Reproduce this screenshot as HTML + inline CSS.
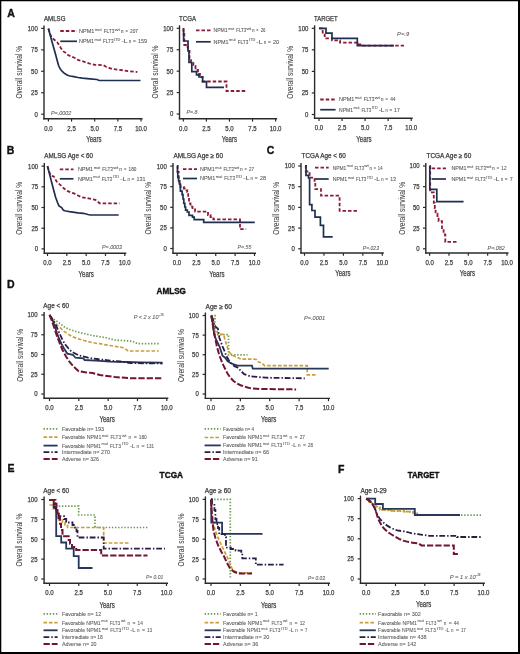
<!DOCTYPE html>
<html><head><meta charset="utf-8"><title>Figure</title>
<style>
html,body{margin:0;padding:0;background:#fff;}
body{width:520px;height:654px;overflow:hidden;}
svg{display:block;font-family:"Liberation Sans",sans-serif;will-change:transform;}
</style></head><body>
<svg width="520" height="654" viewBox="0 0 520 654" fill="#3c3c3c">
<rect x="0" y="0" width="520" height="654" fill="#fff"/>
<line x1="44" y1="25.4" x2="44" y2="119.4" stroke="#2a2a2a" stroke-width="1.4" stroke-linecap="butt"/>
<line x1="43.3" y1="118.8" x2="142.5" y2="118.8" stroke="#2a2a2a" stroke-width="1.4" stroke-linecap="butt"/>
<line x1="41.2" y1="114.2" x2="44" y2="114.2" stroke="#2a2a2a" stroke-width="1.2" stroke-linecap="butt"/>
<text x="37.8" y="116.6" font-size="7" text-anchor="end" textLength="3.35" lengthAdjust="spacingAndGlyphs" stroke="#3c3c3c" stroke-width="0.25">0</text>
<line x1="41.2" y1="92.75" x2="44" y2="92.75" stroke="#2a2a2a" stroke-width="1.2" stroke-linecap="butt"/>
<text x="37.8" y="95.15" font-size="7" text-anchor="end" textLength="6.7" lengthAdjust="spacingAndGlyphs" stroke="#3c3c3c" stroke-width="0.25">25</text>
<line x1="41.2" y1="71.3" x2="44" y2="71.3" stroke="#2a2a2a" stroke-width="1.2" stroke-linecap="butt"/>
<text x="37.8" y="73.7" font-size="7" text-anchor="end" textLength="6.7" lengthAdjust="spacingAndGlyphs" stroke="#3c3c3c" stroke-width="0.25">50</text>
<line x1="41.2" y1="49.85" x2="44" y2="49.85" stroke="#2a2a2a" stroke-width="1.2" stroke-linecap="butt"/>
<text x="37.8" y="52.25" font-size="7" text-anchor="end" textLength="6.7" lengthAdjust="spacingAndGlyphs" stroke="#3c3c3c" stroke-width="0.25">75</text>
<line x1="41.2" y1="28.4" x2="44" y2="28.4" stroke="#2a2a2a" stroke-width="1.2" stroke-linecap="butt"/>
<text x="37.8" y="30.8" font-size="7" text-anchor="end" textLength="10.04" lengthAdjust="spacingAndGlyphs" stroke="#3c3c3c" stroke-width="0.25">100</text>
<line x1="48.4" y1="118.8" x2="48.4" y2="121.6" stroke="#2a2a2a" stroke-width="1.2" stroke-linecap="butt"/>
<text x="48.4" y="130.8" font-size="7" text-anchor="middle" textLength="8.37" lengthAdjust="spacingAndGlyphs" stroke="#3c3c3c" stroke-width="0.25">0.0</text>
<line x1="71.55" y1="118.8" x2="71.55" y2="121.6" stroke="#2a2a2a" stroke-width="1.2" stroke-linecap="butt"/>
<text x="71.55" y="130.8" font-size="7" text-anchor="middle" textLength="8.37" lengthAdjust="spacingAndGlyphs" stroke="#3c3c3c" stroke-width="0.25">2.5</text>
<line x1="94.7" y1="118.8" x2="94.7" y2="121.6" stroke="#2a2a2a" stroke-width="1.2" stroke-linecap="butt"/>
<text x="94.7" y="130.8" font-size="7" text-anchor="middle" textLength="8.37" lengthAdjust="spacingAndGlyphs" stroke="#3c3c3c" stroke-width="0.25">5.0</text>
<line x1="117.85" y1="118.8" x2="117.85" y2="121.6" stroke="#2a2a2a" stroke-width="1.2" stroke-linecap="butt"/>
<text x="117.85" y="130.8" font-size="7" text-anchor="middle" textLength="8.37" lengthAdjust="spacingAndGlyphs" stroke="#3c3c3c" stroke-width="0.25">7.5</text>
<line x1="141" y1="118.8" x2="141" y2="121.6" stroke="#2a2a2a" stroke-width="1.2" stroke-linecap="butt"/>
<text x="141" y="130.8" font-size="7" text-anchor="middle" textLength="11.72" lengthAdjust="spacingAndGlyphs" stroke="#3c3c3c" stroke-width="0.25">10.0</text>
<text x="93.8" y="142.3" font-size="9" text-anchor="middle" textLength="15.3" lengthAdjust="spacingAndGlyphs" stroke="#3c3c3c" stroke-width="0.25">Years</text>
<text transform="translate(22.3,72.2) rotate(-90)" x="0" y="0" font-size="9.2" text-anchor="middle" textLength="52.8" lengthAdjust="spacingAndGlyphs" fill="#454545" stroke="#454545" stroke-width="0.05">Overall survival %</text>
<text x="44" y="21.2" font-size="6.6" textLength="21.4" lengthAdjust="spacingAndGlyphs" stroke="#3c3c3c" stroke-width="0.25">AMLSG</text>
<text x="50.9" y="114.8" font-size="5.2" font-style="italic" textLength="20.4" lengthAdjust="spacingAndGlyphs" fill="#5a5a5a" stroke="#5a5a5a" stroke-width="0.08">P=.0002</text>
<line x1="179.5" y1="25.3" x2="179.5" y2="119.4" stroke="#2a2a2a" stroke-width="1.4" stroke-linecap="butt"/>
<line x1="178.8" y1="118.8" x2="277.1" y2="118.8" stroke="#2a2a2a" stroke-width="1.4" stroke-linecap="butt"/>
<line x1="176.7" y1="114" x2="179.5" y2="114" stroke="#2a2a2a" stroke-width="1.2" stroke-linecap="butt"/>
<text x="173.3" y="116.4" font-size="7" text-anchor="end" textLength="3.35" lengthAdjust="spacingAndGlyphs" stroke="#3c3c3c" stroke-width="0.25">0</text>
<line x1="176.7" y1="92.58" x2="179.5" y2="92.58" stroke="#2a2a2a" stroke-width="1.2" stroke-linecap="butt"/>
<text x="173.3" y="94.98" font-size="7" text-anchor="end" textLength="6.7" lengthAdjust="spacingAndGlyphs" stroke="#3c3c3c" stroke-width="0.25">25</text>
<line x1="176.7" y1="71.15" x2="179.5" y2="71.15" stroke="#2a2a2a" stroke-width="1.2" stroke-linecap="butt"/>
<text x="173.3" y="73.55" font-size="7" text-anchor="end" textLength="6.7" lengthAdjust="spacingAndGlyphs" stroke="#3c3c3c" stroke-width="0.25">50</text>
<line x1="176.7" y1="49.72" x2="179.5" y2="49.72" stroke="#2a2a2a" stroke-width="1.2" stroke-linecap="butt"/>
<text x="173.3" y="52.12" font-size="7" text-anchor="end" textLength="6.7" lengthAdjust="spacingAndGlyphs" stroke="#3c3c3c" stroke-width="0.25">75</text>
<line x1="176.7" y1="28.3" x2="179.5" y2="28.3" stroke="#2a2a2a" stroke-width="1.2" stroke-linecap="butt"/>
<text x="173.3" y="30.7" font-size="7" text-anchor="end" textLength="10.04" lengthAdjust="spacingAndGlyphs" stroke="#3c3c3c" stroke-width="0.25">100</text>
<line x1="183.3" y1="118.8" x2="183.3" y2="121.6" stroke="#2a2a2a" stroke-width="1.2" stroke-linecap="butt"/>
<text x="183.3" y="130.8" font-size="7" text-anchor="middle" textLength="8.37" lengthAdjust="spacingAndGlyphs" stroke="#3c3c3c" stroke-width="0.25">0.0</text>
<line x1="206.38" y1="118.8" x2="206.38" y2="121.6" stroke="#2a2a2a" stroke-width="1.2" stroke-linecap="butt"/>
<text x="206.38" y="130.8" font-size="7" text-anchor="middle" textLength="8.37" lengthAdjust="spacingAndGlyphs" stroke="#3c3c3c" stroke-width="0.25">2.5</text>
<line x1="229.45" y1="118.8" x2="229.45" y2="121.6" stroke="#2a2a2a" stroke-width="1.2" stroke-linecap="butt"/>
<text x="229.45" y="130.8" font-size="7" text-anchor="middle" textLength="8.37" lengthAdjust="spacingAndGlyphs" stroke="#3c3c3c" stroke-width="0.25">5.0</text>
<line x1="252.53" y1="118.8" x2="252.53" y2="121.6" stroke="#2a2a2a" stroke-width="1.2" stroke-linecap="butt"/>
<text x="252.53" y="130.8" font-size="7" text-anchor="middle" textLength="8.37" lengthAdjust="spacingAndGlyphs" stroke="#3c3c3c" stroke-width="0.25">7.5</text>
<line x1="275.6" y1="118.8" x2="275.6" y2="121.6" stroke="#2a2a2a" stroke-width="1.2" stroke-linecap="butt"/>
<text x="275.6" y="130.8" font-size="7" text-anchor="middle" textLength="11.72" lengthAdjust="spacingAndGlyphs" stroke="#3c3c3c" stroke-width="0.25">10.0</text>
<text x="229.3" y="142" font-size="9" text-anchor="middle" textLength="15.3" lengthAdjust="spacingAndGlyphs" stroke="#3c3c3c" stroke-width="0.25">Years</text>
<text transform="translate(158.1,72.05) rotate(-90)" x="0" y="0" font-size="9.2" text-anchor="middle" textLength="52.8" lengthAdjust="spacingAndGlyphs" fill="#454545" stroke="#454545" stroke-width="0.05">Overall survival %</text>
<text x="179" y="21.2" font-size="6.6" textLength="17" lengthAdjust="spacingAndGlyphs" stroke="#3c3c3c" stroke-width="0.25">TCGA</text>
<text x="186.5" y="113.5" font-size="5.2" font-style="italic" textLength="11" lengthAdjust="spacingAndGlyphs" fill="#5a5a5a" stroke="#5a5a5a" stroke-width="0.08">P=.8</text>
<line x1="314.6" y1="25.3" x2="314.6" y2="118.9" stroke="#2a2a2a" stroke-width="1.4" stroke-linecap="butt"/>
<line x1="313.9" y1="118.3" x2="412.7" y2="118.3" stroke="#2a2a2a" stroke-width="1.4" stroke-linecap="butt"/>
<line x1="311.8" y1="114.5" x2="314.6" y2="114.5" stroke="#2a2a2a" stroke-width="1.2" stroke-linecap="butt"/>
<text x="308.4" y="116.9" font-size="7" text-anchor="end" textLength="3.35" lengthAdjust="spacingAndGlyphs" stroke="#3c3c3c" stroke-width="0.25">0</text>
<line x1="311.8" y1="92.95" x2="314.6" y2="92.95" stroke="#2a2a2a" stroke-width="1.2" stroke-linecap="butt"/>
<text x="308.4" y="95.35" font-size="7" text-anchor="end" textLength="6.7" lengthAdjust="spacingAndGlyphs" stroke="#3c3c3c" stroke-width="0.25">25</text>
<line x1="311.8" y1="71.4" x2="314.6" y2="71.4" stroke="#2a2a2a" stroke-width="1.2" stroke-linecap="butt"/>
<text x="308.4" y="73.8" font-size="7" text-anchor="end" textLength="6.7" lengthAdjust="spacingAndGlyphs" stroke="#3c3c3c" stroke-width="0.25">50</text>
<line x1="311.8" y1="49.85" x2="314.6" y2="49.85" stroke="#2a2a2a" stroke-width="1.2" stroke-linecap="butt"/>
<text x="308.4" y="52.25" font-size="7" text-anchor="end" textLength="6.7" lengthAdjust="spacingAndGlyphs" stroke="#3c3c3c" stroke-width="0.25">75</text>
<line x1="311.8" y1="28.3" x2="314.6" y2="28.3" stroke="#2a2a2a" stroke-width="1.2" stroke-linecap="butt"/>
<text x="308.4" y="30.7" font-size="7" text-anchor="end" textLength="10.04" lengthAdjust="spacingAndGlyphs" stroke="#3c3c3c" stroke-width="0.25">100</text>
<line x1="319" y1="118.3" x2="319" y2="121.1" stroke="#2a2a2a" stroke-width="1.2" stroke-linecap="butt"/>
<text x="319" y="130.3" font-size="7" text-anchor="middle" textLength="8.37" lengthAdjust="spacingAndGlyphs" stroke="#3c3c3c" stroke-width="0.25">0.0</text>
<line x1="342.05" y1="118.3" x2="342.05" y2="121.1" stroke="#2a2a2a" stroke-width="1.2" stroke-linecap="butt"/>
<text x="342.05" y="130.3" font-size="7" text-anchor="middle" textLength="8.37" lengthAdjust="spacingAndGlyphs" stroke="#3c3c3c" stroke-width="0.25">2.5</text>
<line x1="365.1" y1="118.3" x2="365.1" y2="121.1" stroke="#2a2a2a" stroke-width="1.2" stroke-linecap="butt"/>
<text x="365.1" y="130.3" font-size="7" text-anchor="middle" textLength="8.37" lengthAdjust="spacingAndGlyphs" stroke="#3c3c3c" stroke-width="0.25">5.0</text>
<line x1="388.15" y1="118.3" x2="388.15" y2="121.1" stroke="#2a2a2a" stroke-width="1.2" stroke-linecap="butt"/>
<text x="388.15" y="130.3" font-size="7" text-anchor="middle" textLength="8.37" lengthAdjust="spacingAndGlyphs" stroke="#3c3c3c" stroke-width="0.25">7.5</text>
<line x1="411.2" y1="118.3" x2="411.2" y2="121.1" stroke="#2a2a2a" stroke-width="1.2" stroke-linecap="butt"/>
<text x="411.2" y="130.3" font-size="7" text-anchor="middle" textLength="11.72" lengthAdjust="spacingAndGlyphs" stroke="#3c3c3c" stroke-width="0.25">10.0</text>
<text x="364" y="142" font-size="9" text-anchor="middle" textLength="15.3" lengthAdjust="spacingAndGlyphs" stroke="#3c3c3c" stroke-width="0.25">Years</text>
<text transform="translate(292.6,72.3) rotate(-90)" x="0" y="0" font-size="9.2" text-anchor="middle" textLength="52.8" lengthAdjust="spacingAndGlyphs" fill="#454545" stroke="#454545" stroke-width="0.05">Overall survival %</text>
<text x="314" y="21.2" font-size="6.6" textLength="23.7" lengthAdjust="spacingAndGlyphs" stroke="#3c3c3c" stroke-width="0.25">TARGET</text>
<text x="397.1" y="35.5" font-size="5.2" font-style="italic" textLength="12" lengthAdjust="spacingAndGlyphs" fill="#5a5a5a" stroke="#5a5a5a" stroke-width="0.08">P=.9</text>
<line x1="44.3" y1="163.1" x2="44.3" y2="253.8" stroke="#2a2a2a" stroke-width="1.4" stroke-linecap="butt"/>
<line x1="43.6" y1="253.2" x2="126.3" y2="253.2" stroke="#2a2a2a" stroke-width="1.4" stroke-linecap="butt"/>
<line x1="41.5" y1="248.9" x2="44.3" y2="248.9" stroke="#2a2a2a" stroke-width="1.2" stroke-linecap="butt"/>
<text x="38.1" y="251.3" font-size="7" text-anchor="end" textLength="3.35" lengthAdjust="spacingAndGlyphs" stroke="#3c3c3c" stroke-width="0.25">0</text>
<line x1="41.5" y1="228.2" x2="44.3" y2="228.2" stroke="#2a2a2a" stroke-width="1.2" stroke-linecap="butt"/>
<text x="38.1" y="230.6" font-size="7" text-anchor="end" textLength="6.7" lengthAdjust="spacingAndGlyphs" stroke="#3c3c3c" stroke-width="0.25">25</text>
<line x1="41.5" y1="207.5" x2="44.3" y2="207.5" stroke="#2a2a2a" stroke-width="1.2" stroke-linecap="butt"/>
<text x="38.1" y="209.9" font-size="7" text-anchor="end" textLength="6.7" lengthAdjust="spacingAndGlyphs" stroke="#3c3c3c" stroke-width="0.25">50</text>
<line x1="41.5" y1="186.8" x2="44.3" y2="186.8" stroke="#2a2a2a" stroke-width="1.2" stroke-linecap="butt"/>
<text x="38.1" y="189.2" font-size="7" text-anchor="end" textLength="6.7" lengthAdjust="spacingAndGlyphs" stroke="#3c3c3c" stroke-width="0.25">75</text>
<line x1="41.5" y1="166.1" x2="44.3" y2="166.1" stroke="#2a2a2a" stroke-width="1.2" stroke-linecap="butt"/>
<text x="38.1" y="168.5" font-size="7" text-anchor="end" textLength="10.04" lengthAdjust="spacingAndGlyphs" stroke="#3c3c3c" stroke-width="0.25">100</text>
<line x1="47.5" y1="253.2" x2="47.5" y2="256" stroke="#2a2a2a" stroke-width="1.2" stroke-linecap="butt"/>
<text x="47.5" y="265.2" font-size="7" text-anchor="middle" textLength="8.37" lengthAdjust="spacingAndGlyphs" stroke="#3c3c3c" stroke-width="0.25">0.0</text>
<line x1="66.83" y1="253.2" x2="66.83" y2="256" stroke="#2a2a2a" stroke-width="1.2" stroke-linecap="butt"/>
<text x="66.83" y="265.2" font-size="7" text-anchor="middle" textLength="8.37" lengthAdjust="spacingAndGlyphs" stroke="#3c3c3c" stroke-width="0.25">2.5</text>
<line x1="86.15" y1="253.2" x2="86.15" y2="256" stroke="#2a2a2a" stroke-width="1.2" stroke-linecap="butt"/>
<text x="86.15" y="265.2" font-size="7" text-anchor="middle" textLength="8.37" lengthAdjust="spacingAndGlyphs" stroke="#3c3c3c" stroke-width="0.25">5.0</text>
<line x1="105.47" y1="253.2" x2="105.47" y2="256" stroke="#2a2a2a" stroke-width="1.2" stroke-linecap="butt"/>
<text x="105.47" y="265.2" font-size="7" text-anchor="middle" textLength="8.37" lengthAdjust="spacingAndGlyphs" stroke="#3c3c3c" stroke-width="0.25">7.5</text>
<line x1="124.8" y1="253.2" x2="124.8" y2="256" stroke="#2a2a2a" stroke-width="1.2" stroke-linecap="butt"/>
<text x="124.8" y="265.2" font-size="7" text-anchor="middle" textLength="11.72" lengthAdjust="spacingAndGlyphs" stroke="#3c3c3c" stroke-width="0.25">10.0</text>
<text x="86.2" y="277" font-size="9" text-anchor="middle" textLength="15.3" lengthAdjust="spacingAndGlyphs" stroke="#3c3c3c" stroke-width="0.25">Years</text>
<text transform="translate(22.2,208.4) rotate(-90)" x="0" y="0" font-size="9.2" text-anchor="middle" textLength="52.8" lengthAdjust="spacingAndGlyphs" fill="#454545" stroke="#454545" stroke-width="0.05">Overall survival %</text>
<text x="44.2" y="157.8" font-size="6.6" textLength="48.9" lengthAdjust="spacingAndGlyphs" stroke="#3c3c3c" stroke-width="0.25">AMLSG Age &lt; 60</text>
<text x="102" y="248.5" font-size="5.2" font-style="italic" textLength="20" lengthAdjust="spacingAndGlyphs" fill="#5a5a5a" stroke="#5a5a5a" stroke-width="0.08">P=.0003</text>
<line x1="173" y1="163.1" x2="173" y2="253.8" stroke="#2a2a2a" stroke-width="1.4" stroke-linecap="butt"/>
<line x1="172.3" y1="253.2" x2="256" y2="253.2" stroke="#2a2a2a" stroke-width="1.4" stroke-linecap="butt"/>
<line x1="170.2" y1="248.5" x2="173" y2="248.5" stroke="#2a2a2a" stroke-width="1.2" stroke-linecap="butt"/>
<text x="166.8" y="250.9" font-size="7" text-anchor="end" textLength="3.35" lengthAdjust="spacingAndGlyphs" stroke="#3c3c3c" stroke-width="0.25">0</text>
<line x1="170.2" y1="227.9" x2="173" y2="227.9" stroke="#2a2a2a" stroke-width="1.2" stroke-linecap="butt"/>
<text x="166.8" y="230.3" font-size="7" text-anchor="end" textLength="6.7" lengthAdjust="spacingAndGlyphs" stroke="#3c3c3c" stroke-width="0.25">25</text>
<line x1="170.2" y1="207.3" x2="173" y2="207.3" stroke="#2a2a2a" stroke-width="1.2" stroke-linecap="butt"/>
<text x="166.8" y="209.7" font-size="7" text-anchor="end" textLength="6.7" lengthAdjust="spacingAndGlyphs" stroke="#3c3c3c" stroke-width="0.25">50</text>
<line x1="170.2" y1="186.7" x2="173" y2="186.7" stroke="#2a2a2a" stroke-width="1.2" stroke-linecap="butt"/>
<text x="166.8" y="189.1" font-size="7" text-anchor="end" textLength="6.7" lengthAdjust="spacingAndGlyphs" stroke="#3c3c3c" stroke-width="0.25">75</text>
<line x1="170.2" y1="166.1" x2="173" y2="166.1" stroke="#2a2a2a" stroke-width="1.2" stroke-linecap="butt"/>
<text x="166.8" y="168.5" font-size="7" text-anchor="end" textLength="10.04" lengthAdjust="spacingAndGlyphs" stroke="#3c3c3c" stroke-width="0.25">100</text>
<line x1="177" y1="253.2" x2="177" y2="256" stroke="#2a2a2a" stroke-width="1.2" stroke-linecap="butt"/>
<text x="177" y="265.2" font-size="7" text-anchor="middle" textLength="8.37" lengthAdjust="spacingAndGlyphs" stroke="#3c3c3c" stroke-width="0.25">0.0</text>
<line x1="196.38" y1="253.2" x2="196.38" y2="256" stroke="#2a2a2a" stroke-width="1.2" stroke-linecap="butt"/>
<text x="196.38" y="265.2" font-size="7" text-anchor="middle" textLength="8.37" lengthAdjust="spacingAndGlyphs" stroke="#3c3c3c" stroke-width="0.25">2.5</text>
<line x1="215.75" y1="253.2" x2="215.75" y2="256" stroke="#2a2a2a" stroke-width="1.2" stroke-linecap="butt"/>
<text x="215.75" y="265.2" font-size="7" text-anchor="middle" textLength="8.37" lengthAdjust="spacingAndGlyphs" stroke="#3c3c3c" stroke-width="0.25">5.0</text>
<line x1="235.12" y1="253.2" x2="235.12" y2="256" stroke="#2a2a2a" stroke-width="1.2" stroke-linecap="butt"/>
<text x="235.12" y="265.2" font-size="7" text-anchor="middle" textLength="8.37" lengthAdjust="spacingAndGlyphs" stroke="#3c3c3c" stroke-width="0.25">7.5</text>
<line x1="254.5" y1="253.2" x2="254.5" y2="256" stroke="#2a2a2a" stroke-width="1.2" stroke-linecap="butt"/>
<text x="254.5" y="265.2" font-size="7" text-anchor="middle" textLength="11.72" lengthAdjust="spacingAndGlyphs" stroke="#3c3c3c" stroke-width="0.25">10.0</text>
<text x="216.8" y="277" font-size="9" text-anchor="middle" textLength="15.3" lengthAdjust="spacingAndGlyphs" stroke="#3c3c3c" stroke-width="0.25">Years</text>
<text transform="translate(151.2,208.2) rotate(-90)" x="0" y="0" font-size="9.2" text-anchor="middle" textLength="52.8" lengthAdjust="spacingAndGlyphs" fill="#454545" stroke="#454545" stroke-width="0.05">Overall survival %</text>
<text x="173.5" y="157.8" font-size="6.6" textLength="49.5" lengthAdjust="spacingAndGlyphs" stroke="#3c3c3c" stroke-width="0.25">AMLSG Age ≥ 60</text>
<text x="237.5" y="249.3" font-size="5.2" font-style="italic" textLength="13.8" lengthAdjust="spacingAndGlyphs" fill="#5a5a5a" stroke="#5a5a5a" stroke-width="0.08">P=.55</text>
<line x1="301" y1="163" x2="301" y2="253.6" stroke="#2a2a2a" stroke-width="1.4" stroke-linecap="butt"/>
<line x1="300.3" y1="253" x2="383.8" y2="253" stroke="#2a2a2a" stroke-width="1.4" stroke-linecap="butt"/>
<line x1="298.2" y1="248.8" x2="301" y2="248.8" stroke="#2a2a2a" stroke-width="1.2" stroke-linecap="butt"/>
<text x="294.8" y="251.2" font-size="7" text-anchor="end" textLength="3.35" lengthAdjust="spacingAndGlyphs" stroke="#3c3c3c" stroke-width="0.25">0</text>
<line x1="298.2" y1="228.1" x2="301" y2="228.1" stroke="#2a2a2a" stroke-width="1.2" stroke-linecap="butt"/>
<text x="294.8" y="230.5" font-size="7" text-anchor="end" textLength="6.7" lengthAdjust="spacingAndGlyphs" stroke="#3c3c3c" stroke-width="0.25">25</text>
<line x1="298.2" y1="207.4" x2="301" y2="207.4" stroke="#2a2a2a" stroke-width="1.2" stroke-linecap="butt"/>
<text x="294.8" y="209.8" font-size="7" text-anchor="end" textLength="6.7" lengthAdjust="spacingAndGlyphs" stroke="#3c3c3c" stroke-width="0.25">50</text>
<line x1="298.2" y1="186.7" x2="301" y2="186.7" stroke="#2a2a2a" stroke-width="1.2" stroke-linecap="butt"/>
<text x="294.8" y="189.1" font-size="7" text-anchor="end" textLength="6.7" lengthAdjust="spacingAndGlyphs" stroke="#3c3c3c" stroke-width="0.25">75</text>
<line x1="298.2" y1="166" x2="301" y2="166" stroke="#2a2a2a" stroke-width="1.2" stroke-linecap="butt"/>
<text x="294.8" y="168.4" font-size="7" text-anchor="end" textLength="10.04" lengthAdjust="spacingAndGlyphs" stroke="#3c3c3c" stroke-width="0.25">100</text>
<line x1="304.5" y1="253" x2="304.5" y2="255.8" stroke="#2a2a2a" stroke-width="1.2" stroke-linecap="butt"/>
<text x="304.5" y="265" font-size="7" text-anchor="middle" textLength="8.37" lengthAdjust="spacingAndGlyphs" stroke="#3c3c3c" stroke-width="0.25">0.0</text>
<line x1="323.95" y1="253" x2="323.95" y2="255.8" stroke="#2a2a2a" stroke-width="1.2" stroke-linecap="butt"/>
<text x="323.95" y="265" font-size="7" text-anchor="middle" textLength="8.37" lengthAdjust="spacingAndGlyphs" stroke="#3c3c3c" stroke-width="0.25">2.5</text>
<line x1="343.4" y1="253" x2="343.4" y2="255.8" stroke="#2a2a2a" stroke-width="1.2" stroke-linecap="butt"/>
<text x="343.4" y="265" font-size="7" text-anchor="middle" textLength="8.37" lengthAdjust="spacingAndGlyphs" stroke="#3c3c3c" stroke-width="0.25">5.0</text>
<line x1="362.85" y1="253" x2="362.85" y2="255.8" stroke="#2a2a2a" stroke-width="1.2" stroke-linecap="butt"/>
<text x="362.85" y="265" font-size="7" text-anchor="middle" textLength="8.37" lengthAdjust="spacingAndGlyphs" stroke="#3c3c3c" stroke-width="0.25">7.5</text>
<line x1="382.3" y1="253" x2="382.3" y2="255.8" stroke="#2a2a2a" stroke-width="1.2" stroke-linecap="butt"/>
<text x="382.3" y="265" font-size="7" text-anchor="middle" textLength="11.72" lengthAdjust="spacingAndGlyphs" stroke="#3c3c3c" stroke-width="0.25">10.0</text>
<text x="342.8" y="276.2" font-size="9" text-anchor="middle" textLength="15.3" lengthAdjust="spacingAndGlyphs" stroke="#3c3c3c" stroke-width="0.25">Years</text>
<text transform="translate(279.1,208.3) rotate(-90)" x="0" y="0" font-size="9.2" text-anchor="middle" textLength="52.8" lengthAdjust="spacingAndGlyphs" fill="#454545" stroke="#454545" stroke-width="0.05">Overall survival %</text>
<text x="301.5" y="158.4" font-size="6.6" textLength="44.3" lengthAdjust="spacingAndGlyphs" stroke="#3c3c3c" stroke-width="0.25">TCGA Age &lt; 60</text>
<text x="362.8" y="249.5" font-size="5.2" font-style="italic" textLength="16.2" lengthAdjust="spacingAndGlyphs" fill="#5a5a5a" stroke="#5a5a5a" stroke-width="0.08">P=.023</text>
<line x1="425.8" y1="163" x2="425.8" y2="253.6" stroke="#2a2a2a" stroke-width="1.4" stroke-linecap="butt"/>
<line x1="425.1" y1="253" x2="508.5" y2="253" stroke="#2a2a2a" stroke-width="1.4" stroke-linecap="butt"/>
<line x1="423" y1="248.8" x2="425.8" y2="248.8" stroke="#2a2a2a" stroke-width="1.2" stroke-linecap="butt"/>
<text x="419.6" y="251.2" font-size="7" text-anchor="end" textLength="3.35" lengthAdjust="spacingAndGlyphs" stroke="#3c3c3c" stroke-width="0.25">0</text>
<line x1="423" y1="228.1" x2="425.8" y2="228.1" stroke="#2a2a2a" stroke-width="1.2" stroke-linecap="butt"/>
<text x="419.6" y="230.5" font-size="7" text-anchor="end" textLength="6.7" lengthAdjust="spacingAndGlyphs" stroke="#3c3c3c" stroke-width="0.25">25</text>
<line x1="423" y1="207.4" x2="425.8" y2="207.4" stroke="#2a2a2a" stroke-width="1.2" stroke-linecap="butt"/>
<text x="419.6" y="209.8" font-size="7" text-anchor="end" textLength="6.7" lengthAdjust="spacingAndGlyphs" stroke="#3c3c3c" stroke-width="0.25">50</text>
<line x1="423" y1="186.7" x2="425.8" y2="186.7" stroke="#2a2a2a" stroke-width="1.2" stroke-linecap="butt"/>
<text x="419.6" y="189.1" font-size="7" text-anchor="end" textLength="6.7" lengthAdjust="spacingAndGlyphs" stroke="#3c3c3c" stroke-width="0.25">75</text>
<line x1="423" y1="166" x2="425.8" y2="166" stroke="#2a2a2a" stroke-width="1.2" stroke-linecap="butt"/>
<text x="419.6" y="168.4" font-size="7" text-anchor="end" textLength="10.04" lengthAdjust="spacingAndGlyphs" stroke="#3c3c3c" stroke-width="0.25">100</text>
<line x1="429.6" y1="253" x2="429.6" y2="255.8" stroke="#2a2a2a" stroke-width="1.2" stroke-linecap="butt"/>
<text x="429.6" y="265" font-size="7" text-anchor="middle" textLength="8.37" lengthAdjust="spacingAndGlyphs" stroke="#3c3c3c" stroke-width="0.25">0.0</text>
<line x1="448.95" y1="253" x2="448.95" y2="255.8" stroke="#2a2a2a" stroke-width="1.2" stroke-linecap="butt"/>
<text x="448.95" y="265" font-size="7" text-anchor="middle" textLength="8.37" lengthAdjust="spacingAndGlyphs" stroke="#3c3c3c" stroke-width="0.25">2.5</text>
<line x1="468.3" y1="253" x2="468.3" y2="255.8" stroke="#2a2a2a" stroke-width="1.2" stroke-linecap="butt"/>
<text x="468.3" y="265" font-size="7" text-anchor="middle" textLength="8.37" lengthAdjust="spacingAndGlyphs" stroke="#3c3c3c" stroke-width="0.25">5.0</text>
<line x1="487.65" y1="253" x2="487.65" y2="255.8" stroke="#2a2a2a" stroke-width="1.2" stroke-linecap="butt"/>
<text x="487.65" y="265" font-size="7" text-anchor="middle" textLength="8.37" lengthAdjust="spacingAndGlyphs" stroke="#3c3c3c" stroke-width="0.25">7.5</text>
<line x1="507" y1="253" x2="507" y2="255.8" stroke="#2a2a2a" stroke-width="1.2" stroke-linecap="butt"/>
<text x="507" y="265" font-size="7" text-anchor="middle" textLength="11.72" lengthAdjust="spacingAndGlyphs" stroke="#3c3c3c" stroke-width="0.25">10.0</text>
<text x="467.5" y="276.2" font-size="9" text-anchor="middle" textLength="15.3" lengthAdjust="spacingAndGlyphs" stroke="#3c3c3c" stroke-width="0.25">Years</text>
<text transform="translate(404.6,208.3) rotate(-90)" x="0" y="0" font-size="9.2" text-anchor="middle" textLength="52.8" lengthAdjust="spacingAndGlyphs" fill="#454545" stroke="#454545" stroke-width="0.05">Overall survival %</text>
<text x="426.5" y="158.2" font-size="6.6" textLength="44.8" lengthAdjust="spacingAndGlyphs" stroke="#3c3c3c" stroke-width="0.25">TCGA Age ≥ 60</text>
<text x="487.5" y="249.5" font-size="5.2" font-style="italic" textLength="17.4" lengthAdjust="spacingAndGlyphs" fill="#5a5a5a" stroke="#5a5a5a" stroke-width="0.08">P=.082</text>
<line x1="44.1" y1="312" x2="44.1" y2="398.9" stroke="#2a2a2a" stroke-width="1.4" stroke-linecap="butt"/>
<line x1="43.4" y1="398.3" x2="168.3" y2="398.3" stroke="#2a2a2a" stroke-width="1.4" stroke-linecap="butt"/>
<line x1="41.3" y1="394" x2="44.1" y2="394" stroke="#2a2a2a" stroke-width="1.2" stroke-linecap="butt"/>
<text x="37.5" y="396.4" font-size="7" text-anchor="end" textLength="3.35" lengthAdjust="spacingAndGlyphs" stroke="#3c3c3c" stroke-width="0.25">0</text>
<line x1="41.3" y1="374.25" x2="44.1" y2="374.25" stroke="#2a2a2a" stroke-width="1.2" stroke-linecap="butt"/>
<text x="37.5" y="376.65" font-size="7" text-anchor="end" textLength="6.7" lengthAdjust="spacingAndGlyphs" stroke="#3c3c3c" stroke-width="0.25">25</text>
<line x1="41.3" y1="354.5" x2="44.1" y2="354.5" stroke="#2a2a2a" stroke-width="1.2" stroke-linecap="butt"/>
<text x="37.5" y="356.9" font-size="7" text-anchor="end" textLength="6.7" lengthAdjust="spacingAndGlyphs" stroke="#3c3c3c" stroke-width="0.25">50</text>
<line x1="41.3" y1="334.75" x2="44.1" y2="334.75" stroke="#2a2a2a" stroke-width="1.2" stroke-linecap="butt"/>
<text x="37.5" y="337.15" font-size="7" text-anchor="end" textLength="6.7" lengthAdjust="spacingAndGlyphs" stroke="#3c3c3c" stroke-width="0.25">75</text>
<line x1="41.3" y1="315" x2="44.1" y2="315" stroke="#2a2a2a" stroke-width="1.2" stroke-linecap="butt"/>
<text x="37.5" y="317.4" font-size="7" text-anchor="end" textLength="10.04" lengthAdjust="spacingAndGlyphs" stroke="#3c3c3c" stroke-width="0.25">100</text>
<line x1="49.5" y1="398.3" x2="49.5" y2="401.1" stroke="#2a2a2a" stroke-width="1.2" stroke-linecap="butt"/>
<text x="49.5" y="410.3" font-size="7" text-anchor="middle" textLength="8.37" lengthAdjust="spacingAndGlyphs" stroke="#3c3c3c" stroke-width="0.25">0.0</text>
<line x1="78.83" y1="398.3" x2="78.83" y2="401.1" stroke="#2a2a2a" stroke-width="1.2" stroke-linecap="butt"/>
<text x="78.83" y="410.3" font-size="7" text-anchor="middle" textLength="8.37" lengthAdjust="spacingAndGlyphs" stroke="#3c3c3c" stroke-width="0.25">2.5</text>
<line x1="108.15" y1="398.3" x2="108.15" y2="401.1" stroke="#2a2a2a" stroke-width="1.2" stroke-linecap="butt"/>
<text x="108.15" y="410.3" font-size="7" text-anchor="middle" textLength="8.37" lengthAdjust="spacingAndGlyphs" stroke="#3c3c3c" stroke-width="0.25">5.0</text>
<line x1="137.48" y1="398.3" x2="137.48" y2="401.1" stroke="#2a2a2a" stroke-width="1.2" stroke-linecap="butt"/>
<text x="137.48" y="410.3" font-size="7" text-anchor="middle" textLength="8.37" lengthAdjust="spacingAndGlyphs" stroke="#3c3c3c" stroke-width="0.25">7.5</text>
<line x1="166.8" y1="398.3" x2="166.8" y2="401.1" stroke="#2a2a2a" stroke-width="1.2" stroke-linecap="butt"/>
<text x="166.8" y="410.3" font-size="7" text-anchor="middle" textLength="11.72" lengthAdjust="spacingAndGlyphs" stroke="#3c3c3c" stroke-width="0.25">10.0</text>
<text x="107.1" y="422.3" font-size="9" text-anchor="middle" textLength="15.3" lengthAdjust="spacingAndGlyphs" stroke="#3c3c3c" stroke-width="0.25">Years</text>
<text transform="translate(22.5,355.4) rotate(-90)" x="0" y="0" font-size="9.2" text-anchor="middle" textLength="52.8" lengthAdjust="spacingAndGlyphs" fill="#454545" stroke="#454545" stroke-width="0.05">Overall survival %</text>
<text x="43.3" y="307.7" font-size="6.6" textLength="25.9" lengthAdjust="spacingAndGlyphs" stroke="#3c3c3c" stroke-width="0.25">Age &lt; 60</text>
<line x1="205.4" y1="312.5" x2="205.4" y2="399" stroke="#2a2a2a" stroke-width="1.4" stroke-linecap="butt"/>
<line x1="204.7" y1="398.4" x2="330" y2="398.4" stroke="#2a2a2a" stroke-width="1.4" stroke-linecap="butt"/>
<line x1="202.6" y1="394" x2="205.4" y2="394" stroke="#2a2a2a" stroke-width="1.2" stroke-linecap="butt"/>
<text x="198.8" y="396.4" font-size="7" text-anchor="end" textLength="3.35" lengthAdjust="spacingAndGlyphs" stroke="#3c3c3c" stroke-width="0.25">0</text>
<line x1="202.6" y1="374.38" x2="205.4" y2="374.38" stroke="#2a2a2a" stroke-width="1.2" stroke-linecap="butt"/>
<text x="198.8" y="376.77" font-size="7" text-anchor="end" textLength="6.7" lengthAdjust="spacingAndGlyphs" stroke="#3c3c3c" stroke-width="0.25">25</text>
<line x1="202.6" y1="354.75" x2="205.4" y2="354.75" stroke="#2a2a2a" stroke-width="1.2" stroke-linecap="butt"/>
<text x="198.8" y="357.15" font-size="7" text-anchor="end" textLength="6.7" lengthAdjust="spacingAndGlyphs" stroke="#3c3c3c" stroke-width="0.25">50</text>
<line x1="202.6" y1="335.12" x2="205.4" y2="335.12" stroke="#2a2a2a" stroke-width="1.2" stroke-linecap="butt"/>
<text x="198.8" y="337.52" font-size="7" text-anchor="end" textLength="6.7" lengthAdjust="spacingAndGlyphs" stroke="#3c3c3c" stroke-width="0.25">75</text>
<line x1="202.6" y1="315.5" x2="205.4" y2="315.5" stroke="#2a2a2a" stroke-width="1.2" stroke-linecap="butt"/>
<text x="198.8" y="317.9" font-size="7" text-anchor="end" textLength="10.04" lengthAdjust="spacingAndGlyphs" stroke="#3c3c3c" stroke-width="0.25">100</text>
<line x1="211" y1="398.4" x2="211" y2="401.2" stroke="#2a2a2a" stroke-width="1.2" stroke-linecap="butt"/>
<text x="211" y="410.4" font-size="7" text-anchor="middle" textLength="8.37" lengthAdjust="spacingAndGlyphs" stroke="#3c3c3c" stroke-width="0.25">0.0</text>
<line x1="240.38" y1="398.4" x2="240.38" y2="401.2" stroke="#2a2a2a" stroke-width="1.2" stroke-linecap="butt"/>
<text x="240.38" y="410.4" font-size="7" text-anchor="middle" textLength="8.37" lengthAdjust="spacingAndGlyphs" stroke="#3c3c3c" stroke-width="0.25">2.5</text>
<line x1="269.75" y1="398.4" x2="269.75" y2="401.2" stroke="#2a2a2a" stroke-width="1.2" stroke-linecap="butt"/>
<text x="269.75" y="410.4" font-size="7" text-anchor="middle" textLength="8.37" lengthAdjust="spacingAndGlyphs" stroke="#3c3c3c" stroke-width="0.25">5.0</text>
<line x1="299.12" y1="398.4" x2="299.12" y2="401.2" stroke="#2a2a2a" stroke-width="1.2" stroke-linecap="butt"/>
<text x="299.12" y="410.4" font-size="7" text-anchor="middle" textLength="8.37" lengthAdjust="spacingAndGlyphs" stroke="#3c3c3c" stroke-width="0.25">7.5</text>
<line x1="328.5" y1="398.4" x2="328.5" y2="401.2" stroke="#2a2a2a" stroke-width="1.2" stroke-linecap="butt"/>
<text x="328.5" y="410.4" font-size="7" text-anchor="middle" textLength="11.72" lengthAdjust="spacingAndGlyphs" stroke="#3c3c3c" stroke-width="0.25">10.0</text>
<text x="268.6" y="422.3" font-size="9" text-anchor="middle" textLength="15.3" lengthAdjust="spacingAndGlyphs" stroke="#3c3c3c" stroke-width="0.25">Years</text>
<text transform="translate(183.9,355.65) rotate(-90)" x="0" y="0" font-size="9.2" text-anchor="middle" textLength="52.8" lengthAdjust="spacingAndGlyphs" fill="#454545" stroke="#454545" stroke-width="0.05">Overall survival %</text>
<text x="205.5" y="308.5" font-size="6.6" textLength="26.5" lengthAdjust="spacingAndGlyphs" stroke="#3c3c3c" stroke-width="0.25">Age ≥ 60</text>
<text x="304" y="320.1" font-size="5.2" font-style="italic" textLength="21.1" lengthAdjust="spacingAndGlyphs" fill="#5a5a5a" stroke="#5a5a5a" stroke-width="0.08">P=.0001</text>
<line x1="44.1" y1="496.5" x2="44.1" y2="583.8" stroke="#2a2a2a" stroke-width="1.4" stroke-linecap="butt"/>
<line x1="43.4" y1="583.2" x2="168" y2="583.2" stroke="#2a2a2a" stroke-width="1.4" stroke-linecap="butt"/>
<line x1="41.3" y1="579" x2="44.1" y2="579" stroke="#2a2a2a" stroke-width="1.2" stroke-linecap="butt"/>
<text x="37.5" y="581.4" font-size="7" text-anchor="end" textLength="3.35" lengthAdjust="spacingAndGlyphs" stroke="#3c3c3c" stroke-width="0.25">0</text>
<line x1="41.3" y1="559.12" x2="44.1" y2="559.12" stroke="#2a2a2a" stroke-width="1.2" stroke-linecap="butt"/>
<text x="37.5" y="561.52" font-size="7" text-anchor="end" textLength="6.7" lengthAdjust="spacingAndGlyphs" stroke="#3c3c3c" stroke-width="0.25">25</text>
<line x1="41.3" y1="539.25" x2="44.1" y2="539.25" stroke="#2a2a2a" stroke-width="1.2" stroke-linecap="butt"/>
<text x="37.5" y="541.65" font-size="7" text-anchor="end" textLength="6.7" lengthAdjust="spacingAndGlyphs" stroke="#3c3c3c" stroke-width="0.25">50</text>
<line x1="41.3" y1="519.38" x2="44.1" y2="519.38" stroke="#2a2a2a" stroke-width="1.2" stroke-linecap="butt"/>
<text x="37.5" y="521.77" font-size="7" text-anchor="end" textLength="6.7" lengthAdjust="spacingAndGlyphs" stroke="#3c3c3c" stroke-width="0.25">75</text>
<line x1="41.3" y1="499.5" x2="44.1" y2="499.5" stroke="#2a2a2a" stroke-width="1.2" stroke-linecap="butt"/>
<text x="37.5" y="501.9" font-size="7" text-anchor="end" textLength="10.04" lengthAdjust="spacingAndGlyphs" stroke="#3c3c3c" stroke-width="0.25">100</text>
<line x1="49.5" y1="583.2" x2="49.5" y2="586" stroke="#2a2a2a" stroke-width="1.2" stroke-linecap="butt"/>
<text x="49.5" y="595.2" font-size="7" text-anchor="middle" textLength="8.37" lengthAdjust="spacingAndGlyphs" stroke="#3c3c3c" stroke-width="0.25">0.0</text>
<line x1="78.75" y1="583.2" x2="78.75" y2="586" stroke="#2a2a2a" stroke-width="1.2" stroke-linecap="butt"/>
<text x="78.75" y="595.2" font-size="7" text-anchor="middle" textLength="8.37" lengthAdjust="spacingAndGlyphs" stroke="#3c3c3c" stroke-width="0.25">2.5</text>
<line x1="108" y1="583.2" x2="108" y2="586" stroke="#2a2a2a" stroke-width="1.2" stroke-linecap="butt"/>
<text x="108" y="595.2" font-size="7" text-anchor="middle" textLength="8.37" lengthAdjust="spacingAndGlyphs" stroke="#3c3c3c" stroke-width="0.25">5.0</text>
<line x1="137.25" y1="583.2" x2="137.25" y2="586" stroke="#2a2a2a" stroke-width="1.2" stroke-linecap="butt"/>
<text x="137.25" y="595.2" font-size="7" text-anchor="middle" textLength="8.37" lengthAdjust="spacingAndGlyphs" stroke="#3c3c3c" stroke-width="0.25">7.5</text>
<line x1="166.5" y1="583.2" x2="166.5" y2="586" stroke="#2a2a2a" stroke-width="1.2" stroke-linecap="butt"/>
<text x="166.5" y="595.2" font-size="7" text-anchor="middle" textLength="11.72" lengthAdjust="spacingAndGlyphs" stroke="#3c3c3c" stroke-width="0.25">10.0</text>
<text x="107.1" y="607.5" font-size="9" text-anchor="middle" textLength="15.3" lengthAdjust="spacingAndGlyphs" stroke="#3c3c3c" stroke-width="0.25">Years</text>
<text transform="translate(22.2,540.15) rotate(-90)" x="0" y="0" font-size="9.2" text-anchor="middle" textLength="52.8" lengthAdjust="spacingAndGlyphs" fill="#454545" stroke="#454545" stroke-width="0.05">Overall survival %</text>
<text x="43.3" y="493" font-size="6.6" textLength="25.9" lengthAdjust="spacingAndGlyphs" stroke="#3c3c3c" stroke-width="0.25">Age &lt; 60</text>
<text x="145.9" y="578.5" font-size="5.2" font-style="italic" textLength="17.3" lengthAdjust="spacingAndGlyphs" fill="#5a5a5a" stroke="#5a5a5a" stroke-width="0.08">P= 0.01</text>
<line x1="205.4" y1="496.4" x2="205.4" y2="583.8" stroke="#2a2a2a" stroke-width="1.4" stroke-linecap="butt"/>
<line x1="204.7" y1="583.2" x2="330" y2="583.2" stroke="#2a2a2a" stroke-width="1.4" stroke-linecap="butt"/>
<line x1="202.6" y1="579" x2="205.4" y2="579" stroke="#2a2a2a" stroke-width="1.2" stroke-linecap="butt"/>
<text x="198.8" y="581.4" font-size="7" text-anchor="end" textLength="3.35" lengthAdjust="spacingAndGlyphs" stroke="#3c3c3c" stroke-width="0.25">0</text>
<line x1="202.6" y1="559.1" x2="205.4" y2="559.1" stroke="#2a2a2a" stroke-width="1.2" stroke-linecap="butt"/>
<text x="198.8" y="561.5" font-size="7" text-anchor="end" textLength="6.7" lengthAdjust="spacingAndGlyphs" stroke="#3c3c3c" stroke-width="0.25">25</text>
<line x1="202.6" y1="539.2" x2="205.4" y2="539.2" stroke="#2a2a2a" stroke-width="1.2" stroke-linecap="butt"/>
<text x="198.8" y="541.6" font-size="7" text-anchor="end" textLength="6.7" lengthAdjust="spacingAndGlyphs" stroke="#3c3c3c" stroke-width="0.25">50</text>
<line x1="202.6" y1="519.3" x2="205.4" y2="519.3" stroke="#2a2a2a" stroke-width="1.2" stroke-linecap="butt"/>
<text x="198.8" y="521.7" font-size="7" text-anchor="end" textLength="6.7" lengthAdjust="spacingAndGlyphs" stroke="#3c3c3c" stroke-width="0.25">75</text>
<line x1="202.6" y1="499.4" x2="205.4" y2="499.4" stroke="#2a2a2a" stroke-width="1.2" stroke-linecap="butt"/>
<text x="198.8" y="501.8" font-size="7" text-anchor="end" textLength="10.04" lengthAdjust="spacingAndGlyphs" stroke="#3c3c3c" stroke-width="0.25">100</text>
<line x1="211" y1="583.2" x2="211" y2="586" stroke="#2a2a2a" stroke-width="1.2" stroke-linecap="butt"/>
<text x="211" y="595.2" font-size="7" text-anchor="middle" textLength="8.37" lengthAdjust="spacingAndGlyphs" stroke="#3c3c3c" stroke-width="0.25">0.0</text>
<line x1="240.38" y1="583.2" x2="240.38" y2="586" stroke="#2a2a2a" stroke-width="1.2" stroke-linecap="butt"/>
<text x="240.38" y="595.2" font-size="7" text-anchor="middle" textLength="8.37" lengthAdjust="spacingAndGlyphs" stroke="#3c3c3c" stroke-width="0.25">2.5</text>
<line x1="269.75" y1="583.2" x2="269.75" y2="586" stroke="#2a2a2a" stroke-width="1.2" stroke-linecap="butt"/>
<text x="269.75" y="595.2" font-size="7" text-anchor="middle" textLength="8.37" lengthAdjust="spacingAndGlyphs" stroke="#3c3c3c" stroke-width="0.25">5.0</text>
<line x1="299.12" y1="583.2" x2="299.12" y2="586" stroke="#2a2a2a" stroke-width="1.2" stroke-linecap="butt"/>
<text x="299.12" y="595.2" font-size="7" text-anchor="middle" textLength="8.37" lengthAdjust="spacingAndGlyphs" stroke="#3c3c3c" stroke-width="0.25">7.5</text>
<line x1="328.5" y1="583.2" x2="328.5" y2="586" stroke="#2a2a2a" stroke-width="1.2" stroke-linecap="butt"/>
<text x="328.5" y="595.2" font-size="7" text-anchor="middle" textLength="11.72" lengthAdjust="spacingAndGlyphs" stroke="#3c3c3c" stroke-width="0.25">10.0</text>
<text x="268.6" y="607.5" font-size="9" text-anchor="middle" textLength="15.3" lengthAdjust="spacingAndGlyphs" stroke="#3c3c3c" stroke-width="0.25">Years</text>
<text transform="translate(183.9,540.1) rotate(-90)" x="0" y="0" font-size="9.2" text-anchor="middle" textLength="52.8" lengthAdjust="spacingAndGlyphs" fill="#454545" stroke="#454545" stroke-width="0.05">Overall survival %</text>
<text x="204.8" y="492.6" font-size="6.6" textLength="26.2" lengthAdjust="spacingAndGlyphs" stroke="#3c3c3c" stroke-width="0.25">Age ≥ 60</text>
<text x="308" y="579.5" font-size="5.2" font-style="italic" textLength="17" lengthAdjust="spacingAndGlyphs" fill="#5a5a5a" stroke="#5a5a5a" stroke-width="0.08">P= 0.03</text>
<line x1="360.5" y1="495.6" x2="360.5" y2="583.9" stroke="#2a2a2a" stroke-width="1.4" stroke-linecap="butt"/>
<line x1="359.8" y1="583.3" x2="484.9" y2="583.3" stroke="#2a2a2a" stroke-width="1.4" stroke-linecap="butt"/>
<line x1="357.7" y1="579" x2="360.5" y2="579" stroke="#2a2a2a" stroke-width="1.2" stroke-linecap="butt"/>
<text x="353.9" y="581.4" font-size="7" text-anchor="end" textLength="3.35" lengthAdjust="spacingAndGlyphs" stroke="#3c3c3c" stroke-width="0.25">0</text>
<line x1="357.7" y1="558.9" x2="360.5" y2="558.9" stroke="#2a2a2a" stroke-width="1.2" stroke-linecap="butt"/>
<text x="353.9" y="561.3" font-size="7" text-anchor="end" textLength="6.7" lengthAdjust="spacingAndGlyphs" stroke="#3c3c3c" stroke-width="0.25">25</text>
<line x1="357.7" y1="538.8" x2="360.5" y2="538.8" stroke="#2a2a2a" stroke-width="1.2" stroke-linecap="butt"/>
<text x="353.9" y="541.2" font-size="7" text-anchor="end" textLength="6.7" lengthAdjust="spacingAndGlyphs" stroke="#3c3c3c" stroke-width="0.25">50</text>
<line x1="357.7" y1="518.7" x2="360.5" y2="518.7" stroke="#2a2a2a" stroke-width="1.2" stroke-linecap="butt"/>
<text x="353.9" y="521.1" font-size="7" text-anchor="end" textLength="6.7" lengthAdjust="spacingAndGlyphs" stroke="#3c3c3c" stroke-width="0.25">75</text>
<line x1="357.7" y1="498.6" x2="360.5" y2="498.6" stroke="#2a2a2a" stroke-width="1.2" stroke-linecap="butt"/>
<text x="353.9" y="501" font-size="7" text-anchor="end" textLength="10.04" lengthAdjust="spacingAndGlyphs" stroke="#3c3c3c" stroke-width="0.25">100</text>
<line x1="366.2" y1="583.3" x2="366.2" y2="586.1" stroke="#2a2a2a" stroke-width="1.2" stroke-linecap="butt"/>
<text x="366.2" y="595.3" font-size="7" text-anchor="middle" textLength="8.37" lengthAdjust="spacingAndGlyphs" stroke="#3c3c3c" stroke-width="0.25">0.0</text>
<line x1="395.5" y1="583.3" x2="395.5" y2="586.1" stroke="#2a2a2a" stroke-width="1.2" stroke-linecap="butt"/>
<text x="395.5" y="595.3" font-size="7" text-anchor="middle" textLength="8.37" lengthAdjust="spacingAndGlyphs" stroke="#3c3c3c" stroke-width="0.25">2.5</text>
<line x1="424.8" y1="583.3" x2="424.8" y2="586.1" stroke="#2a2a2a" stroke-width="1.2" stroke-linecap="butt"/>
<text x="424.8" y="595.3" font-size="7" text-anchor="middle" textLength="8.37" lengthAdjust="spacingAndGlyphs" stroke="#3c3c3c" stroke-width="0.25">5.0</text>
<line x1="454.1" y1="583.3" x2="454.1" y2="586.1" stroke="#2a2a2a" stroke-width="1.2" stroke-linecap="butt"/>
<text x="454.1" y="595.3" font-size="7" text-anchor="middle" textLength="8.37" lengthAdjust="spacingAndGlyphs" stroke="#3c3c3c" stroke-width="0.25">7.5</text>
<line x1="483.4" y1="583.3" x2="483.4" y2="586.1" stroke="#2a2a2a" stroke-width="1.2" stroke-linecap="butt"/>
<text x="483.4" y="595.3" font-size="7" text-anchor="middle" textLength="11.72" lengthAdjust="spacingAndGlyphs" stroke="#3c3c3c" stroke-width="0.25">10.0</text>
<text x="423.6" y="607.3" font-size="9" text-anchor="middle" textLength="15.3" lengthAdjust="spacingAndGlyphs" stroke="#3c3c3c" stroke-width="0.25">Years</text>
<text x="360.4" y="492.5" font-size="6.6" textLength="26.3" lengthAdjust="spacingAndGlyphs" stroke="#3c3c3c" stroke-width="0.25">Age 0-29</text>
<text x="133.7" y="319.3" font-size="5" font-style="italic" fill="#5a5a5a" textLength="24.8" lengthAdjust="spacingAndGlyphs" stroke="#5a5a5a" stroke-width="0.08">P &lt; 2 x 10</text>
<text x="159.3" y="316.4" font-size="3.8" font-style="italic" fill="#5a5a5a" textLength="4.3" lengthAdjust="spacingAndGlyphs" stroke="#5a5a5a" stroke-width="0.08">-16</text>
<text x="449.8" y="578.6" font-size="5" font-style="italic" fill="#5a5a5a" textLength="25.9" lengthAdjust="spacingAndGlyphs" stroke="#5a5a5a" stroke-width="0.08">P = 1 x 10</text>
<text x="476.2" y="575.6" font-size="3.8" font-style="italic" fill="#5a5a5a" textLength="4.3" lengthAdjust="spacingAndGlyphs" stroke="#5a5a5a" stroke-width="0.08">-16</text>
<line x1="60.3" y1="31" x2="77" y2="31" stroke="#8c1b36" stroke-width="1.8" stroke-dasharray="3.5,2" stroke-linecap="butt"/>
<line x1="60.3" y1="41.3" x2="77" y2="41.3" stroke="#1f2f50" stroke-width="1.7" stroke-linecap="butt"/>
<text x="79" y="32.9" font-size="5.4" fill="#555" textLength="15.39" lengthAdjust="spacingAndGlyphs" stroke="#555" stroke-width="0.08">NPM1</text>
<text x="94.9" y="30.63" font-size="4" fill="#555" textLength="6.67" lengthAdjust="spacingAndGlyphs" stroke="#555" stroke-width="0.08">mut</text>
<text x="103.63" y="32.9" font-size="5.4" fill="#555" textLength="10.77" lengthAdjust="spacingAndGlyphs" stroke="#555" stroke-width="0.08">FLT3</text>
<text x="114.71" y="30.63" font-size="4" fill="#555" textLength="5.13" lengthAdjust="spacingAndGlyphs" stroke="#555" stroke-width="0.08">wt</text>
<text x="120.66" y="32.9" font-size="5.4" fill="#555" textLength="2.77" lengthAdjust="spacingAndGlyphs" stroke="#555" stroke-width="0.08">n</text>
<text x="125.38" y="32.9" font-size="5.4" fill="#555" textLength="2.36" lengthAdjust="spacingAndGlyphs" stroke="#555" stroke-width="0.08">=</text>
<text x="130.1" y="32.9" font-size="5.4" fill="#555" textLength="7.9" lengthAdjust="spacingAndGlyphs" stroke="#555" stroke-width="0.08">207</text>
<text x="79" y="43.2" font-size="5.4" fill="#555" textLength="15" lengthAdjust="spacingAndGlyphs" stroke="#555" stroke-width="0.08">NPM1</text>
<text x="94.5" y="40.93" font-size="4" fill="#555" textLength="6.5" lengthAdjust="spacingAndGlyphs" stroke="#555" stroke-width="0.08">mut</text>
<text x="103" y="43.2" font-size="5.4" fill="#555" textLength="10.5" lengthAdjust="spacingAndGlyphs" stroke="#555" stroke-width="0.08">FLT3</text>
<text x="114.2" y="40.93" font-size="4" fill="#555" textLength="6.2" lengthAdjust="spacingAndGlyphs" stroke="#555" stroke-width="0.08">ITD</text>
<text x="121.5" y="43.2" font-size="5.4" fill="#555" textLength="6.2" lengthAdjust="spacingAndGlyphs" stroke="#555" stroke-width="0.08">-L</text>
<text x="128.8" y="43.2" font-size="5.4" fill="#555" textLength="2.4" lengthAdjust="spacingAndGlyphs" stroke="#555" stroke-width="0.08">n</text>
<text x="133" y="43.2" font-size="5.4" fill="#555" textLength="2.8" lengthAdjust="spacingAndGlyphs" stroke="#555" stroke-width="0.08">=</text>
<text x="138" y="43.2" font-size="5.4" fill="#555" textLength="9" lengthAdjust="spacingAndGlyphs" stroke="#555" stroke-width="0.08">159</text>
<line x1="196" y1="30.3" x2="210.7" y2="30.3" stroke="#8c1b36" stroke-width="1.8" stroke-dasharray="3.5,2" stroke-linecap="butt"/>
<line x1="196" y1="41.8" x2="210.7" y2="41.8" stroke="#1f2f50" stroke-width="1.7" stroke-linecap="butt"/>
<text x="213.5" y="32.2" font-size="5.4" fill="#555" textLength="14.2" lengthAdjust="spacingAndGlyphs" stroke="#555" stroke-width="0.08">NPM1</text>
<text x="228.17" y="29.93" font-size="4" fill="#555" textLength="6.15" lengthAdjust="spacingAndGlyphs" stroke="#555" stroke-width="0.08">mut</text>
<text x="236.22" y="32.2" font-size="5.4" fill="#555" textLength="9.94" lengthAdjust="spacingAndGlyphs" stroke="#555" stroke-width="0.08">FLT3</text>
<text x="246.44" y="29.93" font-size="4" fill="#555" textLength="4.73" lengthAdjust="spacingAndGlyphs" stroke="#555" stroke-width="0.08">wt</text>
<text x="251.93" y="32.2" font-size="5.4" fill="#555" textLength="2.56" lengthAdjust="spacingAndGlyphs" stroke="#555" stroke-width="0.08">n</text>
<text x="256.29" y="32.2" font-size="5.4" fill="#555" textLength="2.18" lengthAdjust="spacingAndGlyphs" stroke="#555" stroke-width="0.08">=</text>
<text x="260.64" y="32.2" font-size="5.4" fill="#555" textLength="4.86" lengthAdjust="spacingAndGlyphs" stroke="#555" stroke-width="0.08">26</text>
<text x="213.5" y="43.7" font-size="5.4" fill="#555" textLength="15.12" lengthAdjust="spacingAndGlyphs" stroke="#555" stroke-width="0.08">NPM1</text>
<text x="229.12" y="41.43" font-size="4" fill="#555" textLength="6.55" lengthAdjust="spacingAndGlyphs" stroke="#555" stroke-width="0.08">mut</text>
<text x="237.68" y="43.7" font-size="5.4" fill="#555" textLength="10.58" lengthAdjust="spacingAndGlyphs" stroke="#555" stroke-width="0.08">FLT3</text>
<text x="248.97" y="41.43" font-size="4" fill="#555" textLength="6.25" lengthAdjust="spacingAndGlyphs" stroke="#555" stroke-width="0.08">ITD</text>
<text x="256.33" y="43.7" font-size="5.4" fill="#555" textLength="6.25" lengthAdjust="spacingAndGlyphs" stroke="#555" stroke-width="0.08">-L</text>
<text x="263.68" y="43.7" font-size="5.4" fill="#555" textLength="2.42" lengthAdjust="spacingAndGlyphs" stroke="#555" stroke-width="0.08">n</text>
<text x="267.92" y="43.7" font-size="5.4" fill="#555" textLength="2.82" lengthAdjust="spacingAndGlyphs" stroke="#555" stroke-width="0.08">=</text>
<text x="272.95" y="43.7" font-size="5.4" fill="#555" textLength="6.05" lengthAdjust="spacingAndGlyphs" stroke="#555" stroke-width="0.08">20</text>
<line x1="320.2" y1="99.5" x2="335.6" y2="99.5" stroke="#8c1b36" stroke-width="1.8" stroke-dasharray="3.5,2" stroke-linecap="butt"/>
<line x1="320.2" y1="109.7" x2="335.6" y2="109.7" stroke="#1f2f50" stroke-width="1.7" stroke-linecap="butt"/>
<text x="339" y="101.4" font-size="5.4" fill="#555" textLength="15.4" lengthAdjust="spacingAndGlyphs" stroke="#555" stroke-width="0.08">NPM1</text>
<text x="354.91" y="99.13" font-size="4" fill="#555" textLength="6.67" lengthAdjust="spacingAndGlyphs" stroke="#555" stroke-width="0.08">mut</text>
<text x="363.64" y="101.4" font-size="5.4" fill="#555" textLength="10.78" lengthAdjust="spacingAndGlyphs" stroke="#555" stroke-width="0.08">FLT3</text>
<text x="374.73" y="99.13" font-size="4" fill="#555" textLength="5.13" lengthAdjust="spacingAndGlyphs" stroke="#555" stroke-width="0.08">wt</text>
<text x="380.68" y="101.4" font-size="5.4" fill="#555" textLength="2.77" lengthAdjust="spacingAndGlyphs" stroke="#555" stroke-width="0.08">n</text>
<text x="385.41" y="101.4" font-size="5.4" fill="#555" textLength="2.36" lengthAdjust="spacingAndGlyphs" stroke="#555" stroke-width="0.08">=</text>
<text x="390.13" y="101.4" font-size="5.4" fill="#555" textLength="5.27" lengthAdjust="spacingAndGlyphs" stroke="#555" stroke-width="0.08">44</text>
<text x="339" y="111.6" font-size="5.4" fill="#555" textLength="14.01" lengthAdjust="spacingAndGlyphs" stroke="#555" stroke-width="0.08">NPM1</text>
<text x="353.47" y="109.33" font-size="4" fill="#555" textLength="6.07" lengthAdjust="spacingAndGlyphs" stroke="#555" stroke-width="0.08">mut</text>
<text x="361.41" y="111.6" font-size="5.4" fill="#555" textLength="9.81" lengthAdjust="spacingAndGlyphs" stroke="#555" stroke-width="0.08">FLT3</text>
<text x="371.87" y="109.33" font-size="4" fill="#555" textLength="5.79" lengthAdjust="spacingAndGlyphs" stroke="#555" stroke-width="0.08">ITD</text>
<text x="378.69" y="111.6" font-size="5.4" fill="#555" textLength="5.79" lengthAdjust="spacingAndGlyphs" stroke="#555" stroke-width="0.08">-L</text>
<text x="385.51" y="111.6" font-size="5.4" fill="#555" textLength="2.24" lengthAdjust="spacingAndGlyphs" stroke="#555" stroke-width="0.08">n</text>
<text x="389.43" y="111.6" font-size="5.4" fill="#555" textLength="2.61" lengthAdjust="spacingAndGlyphs" stroke="#555" stroke-width="0.08">=</text>
<text x="394.1" y="111.6" font-size="5.4" fill="#555" textLength="5.6" lengthAdjust="spacingAndGlyphs" stroke="#555" stroke-width="0.08">17</text>
<line x1="59.8" y1="169.3" x2="73.5" y2="169.3" stroke="#8c1b36" stroke-width="1.8" stroke-dasharray="3.5,2" stroke-linecap="butt"/>
<line x1="59.8" y1="178.8" x2="73.5" y2="178.8" stroke="#1f2f50" stroke-width="1.7" stroke-linecap="butt"/>
<text x="77.9" y="171.2" font-size="5.4" fill="#555" textLength="15.26" lengthAdjust="spacingAndGlyphs" stroke="#555" stroke-width="0.08">NPM1</text>
<text x="93.67" y="168.93" font-size="4" fill="#555" textLength="6.61" lengthAdjust="spacingAndGlyphs" stroke="#555" stroke-width="0.08">mut</text>
<text x="102.32" y="171.2" font-size="5.4" fill="#555" textLength="10.68" lengthAdjust="spacingAndGlyphs" stroke="#555" stroke-width="0.08">FLT3</text>
<text x="113.31" y="168.93" font-size="4" fill="#555" textLength="5.09" lengthAdjust="spacingAndGlyphs" stroke="#555" stroke-width="0.08">wt</text>
<text x="119.21" y="171.2" font-size="5.4" fill="#555" textLength="2.75" lengthAdjust="spacingAndGlyphs" stroke="#555" stroke-width="0.08">n</text>
<text x="123.89" y="171.2" font-size="5.4" fill="#555" textLength="2.34" lengthAdjust="spacingAndGlyphs" stroke="#555" stroke-width="0.08">=</text>
<text x="128.57" y="171.2" font-size="5.4" fill="#555" textLength="7.83" lengthAdjust="spacingAndGlyphs" stroke="#555" stroke-width="0.08">180</text>
<text x="77.9" y="180.7" font-size="5.4" fill="#555" textLength="14.91" lengthAdjust="spacingAndGlyphs" stroke="#555" stroke-width="0.08">NPM1</text>
<text x="93.31" y="178.43" font-size="4" fill="#555" textLength="6.46" lengthAdjust="spacingAndGlyphs" stroke="#555" stroke-width="0.08">mut</text>
<text x="101.76" y="180.7" font-size="5.4" fill="#555" textLength="10.44" lengthAdjust="spacingAndGlyphs" stroke="#555" stroke-width="0.08">FLT3</text>
<text x="112.89" y="178.43" font-size="4" fill="#555" textLength="6.16" lengthAdjust="spacingAndGlyphs" stroke="#555" stroke-width="0.08">ITD</text>
<text x="120.15" y="180.7" font-size="5.4" fill="#555" textLength="6.16" lengthAdjust="spacingAndGlyphs" stroke="#555" stroke-width="0.08">-L</text>
<text x="127.41" y="180.7" font-size="5.4" fill="#555" textLength="2.39" lengthAdjust="spacingAndGlyphs" stroke="#555" stroke-width="0.08">n</text>
<text x="131.58" y="180.7" font-size="5.4" fill="#555" textLength="2.78" lengthAdjust="spacingAndGlyphs" stroke="#555" stroke-width="0.08">=</text>
<text x="136.55" y="180.7" font-size="5.4" fill="#555" textLength="8.95" lengthAdjust="spacingAndGlyphs" stroke="#555" stroke-width="0.08">131</text>
<line x1="183" y1="169.2" x2="197" y2="169.2" stroke="#8c1b36" stroke-width="1.8" stroke-dasharray="3.5,2" stroke-linecap="butt"/>
<line x1="183" y1="178.5" x2="197" y2="178.5" stroke="#1f2f50" stroke-width="1.7" stroke-linecap="butt"/>
<text x="200" y="171.1" font-size="5.4" fill="#555" textLength="14.75" lengthAdjust="spacingAndGlyphs" stroke="#555" stroke-width="0.08">NPM1</text>
<text x="215.24" y="168.83" font-size="4" fill="#555" textLength="6.39" lengthAdjust="spacingAndGlyphs" stroke="#555" stroke-width="0.08">mut</text>
<text x="223.59" y="171.1" font-size="5.4" fill="#555" textLength="10.32" lengthAdjust="spacingAndGlyphs" stroke="#555" stroke-width="0.08">FLT3</text>
<text x="234.21" y="168.83" font-size="4" fill="#555" textLength="4.92" lengthAdjust="spacingAndGlyphs" stroke="#555" stroke-width="0.08">wt</text>
<text x="239.91" y="171.1" font-size="5.4" fill="#555" textLength="2.65" lengthAdjust="spacingAndGlyphs" stroke="#555" stroke-width="0.08">n</text>
<text x="244.43" y="171.1" font-size="5.4" fill="#555" textLength="2.26" lengthAdjust="spacingAndGlyphs" stroke="#555" stroke-width="0.08">=</text>
<text x="248.95" y="171.1" font-size="5.4" fill="#555" textLength="5.05" lengthAdjust="spacingAndGlyphs" stroke="#555" stroke-width="0.08">27</text>
<text x="200" y="180.4" font-size="5.4" fill="#555" textLength="15.23" lengthAdjust="spacingAndGlyphs" stroke="#555" stroke-width="0.08">NPM1</text>
<text x="215.74" y="178.13" font-size="4" fill="#555" textLength="6.6" lengthAdjust="spacingAndGlyphs" stroke="#555" stroke-width="0.08">mut</text>
<text x="224.37" y="180.4" font-size="5.4" fill="#555" textLength="10.66" lengthAdjust="spacingAndGlyphs" stroke="#555" stroke-width="0.08">FLT3</text>
<text x="235.74" y="178.13" font-size="4" fill="#555" textLength="6.3" lengthAdjust="spacingAndGlyphs" stroke="#555" stroke-width="0.08">ITD</text>
<text x="243.15" y="180.4" font-size="5.4" fill="#555" textLength="6.3" lengthAdjust="spacingAndGlyphs" stroke="#555" stroke-width="0.08">-L</text>
<text x="250.57" y="180.4" font-size="5.4" fill="#555" textLength="2.44" lengthAdjust="spacingAndGlyphs" stroke="#555" stroke-width="0.08">n</text>
<text x="254.83" y="180.4" font-size="5.4" fill="#555" textLength="2.84" lengthAdjust="spacingAndGlyphs" stroke="#555" stroke-width="0.08">=</text>
<text x="259.91" y="180.4" font-size="5.4" fill="#555" textLength="6.09" lengthAdjust="spacingAndGlyphs" stroke="#555" stroke-width="0.08">28</text>
<line x1="315" y1="167.7" x2="328.7" y2="167.7" stroke="#8c1b36" stroke-width="1.8" stroke-dasharray="3.5,2" stroke-linecap="butt"/>
<line x1="315" y1="179" x2="328.7" y2="179" stroke="#1f2f50" stroke-width="1.7" stroke-linecap="butt"/>
<text x="332.7" y="169.6" font-size="5.4" fill="#555" textLength="13.6" lengthAdjust="spacingAndGlyphs" stroke="#555" stroke-width="0.08">NPM1</text>
<text x="346.75" y="167.33" font-size="4" fill="#555" textLength="5.89" lengthAdjust="spacingAndGlyphs" stroke="#555" stroke-width="0.08">mut</text>
<text x="354.46" y="169.6" font-size="5.4" fill="#555" textLength="9.52" lengthAdjust="spacingAndGlyphs" stroke="#555" stroke-width="0.08">FLT3</text>
<text x="364.25" y="167.33" font-size="4" fill="#555" textLength="4.53" lengthAdjust="spacingAndGlyphs" stroke="#555" stroke-width="0.08">wt</text>
<text x="369.51" y="169.6" font-size="5.4" fill="#555" textLength="2.45" lengthAdjust="spacingAndGlyphs" stroke="#555" stroke-width="0.08">n</text>
<text x="373.68" y="169.6" font-size="5.4" fill="#555" textLength="2.09" lengthAdjust="spacingAndGlyphs" stroke="#555" stroke-width="0.08">=</text>
<text x="377.85" y="169.6" font-size="5.4" fill="#555" textLength="4.65" lengthAdjust="spacingAndGlyphs" stroke="#555" stroke-width="0.08">14</text>
<text x="332.7" y="180.9" font-size="5.4" fill="#555" textLength="14.61" lengthAdjust="spacingAndGlyphs" stroke="#555" stroke-width="0.08">NPM1</text>
<text x="347.79" y="178.63" font-size="4" fill="#555" textLength="6.33" lengthAdjust="spacingAndGlyphs" stroke="#555" stroke-width="0.08">mut</text>
<text x="356.07" y="180.9" font-size="5.4" fill="#555" textLength="10.23" lengthAdjust="spacingAndGlyphs" stroke="#555" stroke-width="0.08">FLT3</text>
<text x="366.98" y="178.63" font-size="4" fill="#555" textLength="6.04" lengthAdjust="spacingAndGlyphs" stroke="#555" stroke-width="0.08">ITD</text>
<text x="374.09" y="180.9" font-size="5.4" fill="#555" textLength="6.04" lengthAdjust="spacingAndGlyphs" stroke="#555" stroke-width="0.08">-L</text>
<text x="381.2" y="180.9" font-size="5.4" fill="#555" textLength="2.34" lengthAdjust="spacingAndGlyphs" stroke="#555" stroke-width="0.08">n</text>
<text x="385.29" y="180.9" font-size="5.4" fill="#555" textLength="2.73" lengthAdjust="spacingAndGlyphs" stroke="#555" stroke-width="0.08">=</text>
<text x="390.16" y="180.9" font-size="5.4" fill="#555" textLength="5.84" lengthAdjust="spacingAndGlyphs" stroke="#555" stroke-width="0.08">13</text>
<line x1="431.7" y1="168.3" x2="446" y2="168.3" stroke="#8c1b36" stroke-width="1.8" stroke-dasharray="3.5,2" stroke-linecap="butt"/>
<line x1="431.7" y1="179" x2="446" y2="179" stroke="#1f2f50" stroke-width="1.7" stroke-linecap="butt"/>
<text x="451.4" y="170.2" font-size="5.4" fill="#555" textLength="15.05" lengthAdjust="spacingAndGlyphs" stroke="#555" stroke-width="0.08">NPM1</text>
<text x="466.95" y="167.93" font-size="4" fill="#555" textLength="6.52" lengthAdjust="spacingAndGlyphs" stroke="#555" stroke-width="0.08">mut</text>
<text x="475.47" y="170.2" font-size="5.4" fill="#555" textLength="10.53" lengthAdjust="spacingAndGlyphs" stroke="#555" stroke-width="0.08">FLT3</text>
<text x="486.31" y="167.93" font-size="4" fill="#555" textLength="5.02" lengthAdjust="spacingAndGlyphs" stroke="#555" stroke-width="0.08">wt</text>
<text x="492.12" y="170.2" font-size="5.4" fill="#555" textLength="2.71" lengthAdjust="spacingAndGlyphs" stroke="#555" stroke-width="0.08">n</text>
<text x="496.74" y="170.2" font-size="5.4" fill="#555" textLength="2.31" lengthAdjust="spacingAndGlyphs" stroke="#555" stroke-width="0.08">=</text>
<text x="501.35" y="170.2" font-size="5.4" fill="#555" textLength="5.15" lengthAdjust="spacingAndGlyphs" stroke="#555" stroke-width="0.08">12</text>
<text x="451.4" y="180.9" font-size="5.4" fill="#555" textLength="14.83" lengthAdjust="spacingAndGlyphs" stroke="#555" stroke-width="0.08">NPM1</text>
<text x="466.73" y="178.63" font-size="4" fill="#555" textLength="6.43" lengthAdjust="spacingAndGlyphs" stroke="#555" stroke-width="0.08">mut</text>
<text x="475.13" y="180.9" font-size="5.4" fill="#555" textLength="10.38" lengthAdjust="spacingAndGlyphs" stroke="#555" stroke-width="0.08">FLT3</text>
<text x="486.2" y="178.63" font-size="4" fill="#555" textLength="6.13" lengthAdjust="spacingAndGlyphs" stroke="#555" stroke-width="0.08">ITD</text>
<text x="493.42" y="180.9" font-size="5.4" fill="#555" textLength="6.13" lengthAdjust="spacingAndGlyphs" stroke="#555" stroke-width="0.08">-L</text>
<text x="500.64" y="180.9" font-size="5.4" fill="#555" textLength="2.37" lengthAdjust="spacingAndGlyphs" stroke="#555" stroke-width="0.08">n</text>
<text x="504.79" y="180.9" font-size="5.4" fill="#555" textLength="2.77" lengthAdjust="spacingAndGlyphs" stroke="#555" stroke-width="0.08">=</text>
<text x="509.73" y="180.9" font-size="5.4" fill="#555" textLength="2.97" lengthAdjust="spacingAndGlyphs" stroke="#555" stroke-width="0.08">7</text>
<line x1="43.5" y1="428.8" x2="57.6" y2="428.8" stroke="#6a9a50" stroke-width="1.7" stroke-dasharray="1.4,1.7" stroke-linecap="butt"/>
<line x1="43.5" y1="437.2" x2="57.6" y2="437.2" stroke="#cc9e38" stroke-width="1.7" stroke-dasharray="3.6,1.8" stroke-linecap="butt"/>
<line x1="43.5" y1="445.6" x2="57.6" y2="445.6" stroke="#27375a" stroke-width="1.8" stroke-linecap="butt"/>
<line x1="43.5" y1="452.2" x2="57.6" y2="452.2" stroke="#2c1d48" stroke-width="1.8" stroke-dasharray="5.8,2,1.5,1.8" stroke-linecap="butt"/>
<line x1="43.5" y1="459" x2="57.6" y2="459" stroke="#721532" stroke-width="2.0" stroke-dasharray="6.3,2" stroke-linecap="butt"/>
<text x="61.9" y="430.7" font-size="5.3" fill="#5c5c5c" textLength="42.1" lengthAdjust="spacingAndGlyphs" stroke="#5c5c5c" stroke-width="0.08">Favorable n= 193</text>
<text x="61.9" y="454.1" font-size="5.3" fill="#5c5c5c" textLength="48.1" lengthAdjust="spacingAndGlyphs" stroke="#5c5c5c" stroke-width="0.08">Intermediate n= 270</text>
<text x="61.9" y="460.9" font-size="5.3" fill="#5c5c5c" textLength="37.1" lengthAdjust="spacingAndGlyphs" stroke="#5c5c5c" stroke-width="0.08">Adverse n= 326</text>
<text x="61.9" y="439.1" font-size="5.3" fill="#5c5c5c" textLength="23.25" lengthAdjust="spacingAndGlyphs" stroke="#5c5c5c" stroke-width="0.08">Favorable</text>
<text x="86.66" y="439.1" font-size="5.3" fill="#5c5c5c" textLength="14.66" lengthAdjust="spacingAndGlyphs" stroke="#5c5c5c" stroke-width="0.08">NPM1</text>
<text x="101.82" y="436.87" font-size="4" fill="#5c5c5c" textLength="6.57" lengthAdjust="spacingAndGlyphs" stroke="#5c5c5c" stroke-width="0.08">mut</text>
<text x="110.41" y="439.1" font-size="5.3" fill="#5c5c5c" textLength="10.61" lengthAdjust="spacingAndGlyphs" stroke="#5c5c5c" stroke-width="0.08">FLT3</text>
<text x="122.04" y="436.87" font-size="4" fill="#5c5c5c" textLength="4.55" lengthAdjust="spacingAndGlyphs" stroke="#5c5c5c" stroke-width="0.08">wt</text>
<text x="128.61" y="439.1" font-size="5.3" fill="#5c5c5c" textLength="2.53" lengthAdjust="spacingAndGlyphs" stroke="#5c5c5c" stroke-width="0.08">n</text>
<text x="133.66" y="439.1" font-size="5.3" fill="#5c5c5c" textLength="3.03" lengthAdjust="spacingAndGlyphs" stroke="#5c5c5c" stroke-width="0.08">=</text>
<text x="138.71" y="439.1" font-size="5.3" fill="#5c5c5c" textLength="8.09" lengthAdjust="spacingAndGlyphs" stroke="#5c5c5c" stroke-width="0.08">180</text>
<text x="61.9" y="447.5" font-size="5.3" fill="#5c5c5c" textLength="23.02" lengthAdjust="spacingAndGlyphs" stroke="#5c5c5c" stroke-width="0.08">Favorable</text>
<text x="86.43" y="447.5" font-size="5.3" fill="#5c5c5c" textLength="14.52" lengthAdjust="spacingAndGlyphs" stroke="#5c5c5c" stroke-width="0.08">NPM1</text>
<text x="101.44" y="445.27" font-size="4" fill="#5c5c5c" textLength="6.51" lengthAdjust="spacingAndGlyphs" stroke="#5c5c5c" stroke-width="0.08">mut</text>
<text x="109.95" y="447.5" font-size="5.3" fill="#5c5c5c" textLength="11.01" lengthAdjust="spacingAndGlyphs" stroke="#5c5c5c" stroke-width="0.08">FLT3</text>
<text x="121.97" y="445.27" font-size="4" fill="#5c5c5c" textLength="6.51" lengthAdjust="spacingAndGlyphs" stroke="#5c5c5c" stroke-width="0.08">ITD</text>
<text x="129.97" y="447.5" font-size="5.3" fill="#5c5c5c" textLength="5.01" lengthAdjust="spacingAndGlyphs" stroke="#5c5c5c" stroke-width="0.08">-L</text>
<text x="136.48" y="447.5" font-size="5.3" fill="#5c5c5c" textLength="2.5" lengthAdjust="spacingAndGlyphs" stroke="#5c5c5c" stroke-width="0.08">n</text>
<text x="141.49" y="447.5" font-size="5.3" fill="#5c5c5c" textLength="3" lengthAdjust="spacingAndGlyphs" stroke="#5c5c5c" stroke-width="0.08">=</text>
<text x="146.49" y="447.5" font-size="5.3" fill="#5c5c5c" textLength="7.51" lengthAdjust="spacingAndGlyphs" stroke="#5c5c5c" stroke-width="0.08">131</text>
<line x1="204.6" y1="428.9" x2="220.8" y2="428.9" stroke="#6a9a50" stroke-width="1.7" stroke-dasharray="1.4,1.7" stroke-linecap="butt"/>
<line x1="204.6" y1="437.5" x2="220.8" y2="437.5" stroke="#cc9e38" stroke-width="1.7" stroke-dasharray="3.6,1.8" stroke-linecap="butt"/>
<line x1="204.6" y1="445.4" x2="220.8" y2="445.4" stroke="#27375a" stroke-width="1.8" stroke-linecap="butt"/>
<line x1="204.6" y1="452.2" x2="220.8" y2="452.2" stroke="#2c1d48" stroke-width="1.8" stroke-dasharray="5.8,2,1.5,1.8" stroke-linecap="butt"/>
<line x1="204.6" y1="459" x2="220.8" y2="459" stroke="#721532" stroke-width="2.0" stroke-dasharray="6.3,2" stroke-linecap="butt"/>
<text x="223.1" y="430.8" font-size="5.3" fill="#5c5c5c" textLength="31.1" lengthAdjust="spacingAndGlyphs" stroke="#5c5c5c" stroke-width="0.08">Favorable n= 4</text>
<text x="223.1" y="454.1" font-size="5.3" fill="#5c5c5c" textLength="46.1" lengthAdjust="spacingAndGlyphs" stroke="#5c5c5c" stroke-width="0.08">Intermediate n= 66</text>
<text x="223.1" y="460.9" font-size="5.3" fill="#5c5c5c" textLength="34.6" lengthAdjust="spacingAndGlyphs" stroke="#5c5c5c" stroke-width="0.08">Adverse n= 91</text>
<text x="223.1" y="439.4" font-size="5.3" fill="#5c5c5c" textLength="23.16" lengthAdjust="spacingAndGlyphs" stroke="#5c5c5c" stroke-width="0.08">Favorable</text>
<text x="247.77" y="439.4" font-size="5.3" fill="#5c5c5c" textLength="14.6" lengthAdjust="spacingAndGlyphs" stroke="#5c5c5c" stroke-width="0.08">NPM1</text>
<text x="262.88" y="437.17" font-size="4" fill="#5c5c5c" textLength="6.55" lengthAdjust="spacingAndGlyphs" stroke="#5c5c5c" stroke-width="0.08">mut</text>
<text x="271.43" y="439.4" font-size="5.3" fill="#5c5c5c" textLength="10.57" lengthAdjust="spacingAndGlyphs" stroke="#5c5c5c" stroke-width="0.08">FLT3</text>
<text x="283.01" y="437.17" font-size="4" fill="#5c5c5c" textLength="4.53" lengthAdjust="spacingAndGlyphs" stroke="#5c5c5c" stroke-width="0.08">wt</text>
<text x="289.56" y="439.4" font-size="5.3" fill="#5c5c5c" textLength="2.52" lengthAdjust="spacingAndGlyphs" stroke="#5c5c5c" stroke-width="0.08">n</text>
<text x="294.59" y="439.4" font-size="5.3" fill="#5c5c5c" textLength="3.02" lengthAdjust="spacingAndGlyphs" stroke="#5c5c5c" stroke-width="0.08">=</text>
<text x="299.63" y="439.4" font-size="5.3" fill="#5c5c5c" textLength="5.37" lengthAdjust="spacingAndGlyphs" stroke="#5c5c5c" stroke-width="0.08">27</text>
<text x="223.1" y="447.3" font-size="5.3" fill="#5c5c5c" textLength="23.1" lengthAdjust="spacingAndGlyphs" stroke="#5c5c5c" stroke-width="0.08">Favorable</text>
<text x="247.71" y="447.3" font-size="5.3" fill="#5c5c5c" textLength="14.56" lengthAdjust="spacingAndGlyphs" stroke="#5c5c5c" stroke-width="0.08">NPM1</text>
<text x="262.78" y="445.07" font-size="4" fill="#5c5c5c" textLength="6.53" lengthAdjust="spacingAndGlyphs" stroke="#5c5c5c" stroke-width="0.08">mut</text>
<text x="271.31" y="447.3" font-size="5.3" fill="#5c5c5c" textLength="11.05" lengthAdjust="spacingAndGlyphs" stroke="#5c5c5c" stroke-width="0.08">FLT3</text>
<text x="283.37" y="445.07" font-size="4" fill="#5c5c5c" textLength="6.53" lengthAdjust="spacingAndGlyphs" stroke="#5c5c5c" stroke-width="0.08">ITD</text>
<text x="291.4" y="447.3" font-size="5.3" fill="#5c5c5c" textLength="5.02" lengthAdjust="spacingAndGlyphs" stroke="#5c5c5c" stroke-width="0.08">-L</text>
<text x="297.93" y="447.3" font-size="5.3" fill="#5c5c5c" textLength="2.51" lengthAdjust="spacingAndGlyphs" stroke="#5c5c5c" stroke-width="0.08">n</text>
<text x="302.96" y="447.3" font-size="5.3" fill="#5c5c5c" textLength="3.01" lengthAdjust="spacingAndGlyphs" stroke="#5c5c5c" stroke-width="0.08">=</text>
<text x="307.98" y="447.3" font-size="5.3" fill="#5c5c5c" textLength="5.02" lengthAdjust="spacingAndGlyphs" stroke="#5c5c5c" stroke-width="0.08">28</text>
<line x1="43.5" y1="613.9" x2="57.6" y2="613.9" stroke="#6a9a50" stroke-width="1.7" stroke-dasharray="1.4,1.7" stroke-linecap="butt"/>
<line x1="43.5" y1="622.6" x2="57.6" y2="622.6" stroke="#cc9e38" stroke-width="1.7" stroke-dasharray="3.6,1.8" stroke-linecap="butt"/>
<line x1="43.5" y1="630.3" x2="57.6" y2="630.3" stroke="#27375a" stroke-width="1.8" stroke-linecap="butt"/>
<line x1="43.5" y1="637.2" x2="57.6" y2="637.2" stroke="#2c1d48" stroke-width="1.8" stroke-dasharray="5.8,2,1.5,1.8" stroke-linecap="butt"/>
<line x1="43.5" y1="644" x2="57.6" y2="644" stroke="#721532" stroke-width="2.0" stroke-dasharray="6.3,2" stroke-linecap="butt"/>
<text x="61.9" y="615.8" font-size="5.3" fill="#5c5c5c" textLength="39.3" lengthAdjust="spacingAndGlyphs" stroke="#5c5c5c" stroke-width="0.08">Favorable n= 12</text>
<text x="61.9" y="639.1" font-size="5.3" fill="#5c5c5c" textLength="40.9" lengthAdjust="spacingAndGlyphs" stroke="#5c5c5c" stroke-width="0.08">Intermediate n= 18</text>
<text x="61.9" y="645.9" font-size="5.3" fill="#5c5c5c" textLength="34.7" lengthAdjust="spacingAndGlyphs" stroke="#5c5c5c" stroke-width="0.08">Adverse n= 20</text>
<text x="61.9" y="624.5" font-size="5.3" fill="#5c5c5c" textLength="22.88" lengthAdjust="spacingAndGlyphs" stroke="#5c5c5c" stroke-width="0.08">Favorable</text>
<text x="86.27" y="624.5" font-size="5.3" fill="#5c5c5c" textLength="14.42" lengthAdjust="spacingAndGlyphs" stroke="#5c5c5c" stroke-width="0.08">NPM1</text>
<text x="101.19" y="622.27" font-size="4" fill="#5c5c5c" textLength="6.47" lengthAdjust="spacingAndGlyphs" stroke="#5c5c5c" stroke-width="0.08">mut</text>
<text x="109.64" y="624.5" font-size="5.3" fill="#5c5c5c" textLength="10.44" lengthAdjust="spacingAndGlyphs" stroke="#5c5c5c" stroke-width="0.08">FLT3</text>
<text x="121.08" y="622.27" font-size="4" fill="#5c5c5c" textLength="4.48" lengthAdjust="spacingAndGlyphs" stroke="#5c5c5c" stroke-width="0.08">wt</text>
<text x="127.55" y="624.5" font-size="5.3" fill="#5c5c5c" textLength="2.49" lengthAdjust="spacingAndGlyphs" stroke="#5c5c5c" stroke-width="0.08">n</text>
<text x="132.52" y="624.5" font-size="5.3" fill="#5c5c5c" textLength="2.98" lengthAdjust="spacingAndGlyphs" stroke="#5c5c5c" stroke-width="0.08">=</text>
<text x="137.5" y="624.5" font-size="5.3" fill="#5c5c5c" textLength="5.3" lengthAdjust="spacingAndGlyphs" stroke="#5c5c5c" stroke-width="0.08">14</text>
<text x="61.9" y="632.2" font-size="5.3" fill="#5c5c5c" textLength="23.15" lengthAdjust="spacingAndGlyphs" stroke="#5c5c5c" stroke-width="0.08">Favorable</text>
<text x="86.56" y="632.2" font-size="5.3" fill="#5c5c5c" textLength="14.6" lengthAdjust="spacingAndGlyphs" stroke="#5c5c5c" stroke-width="0.08">NPM1</text>
<text x="101.66" y="629.97" font-size="4" fill="#5c5c5c" textLength="6.54" lengthAdjust="spacingAndGlyphs" stroke="#5c5c5c" stroke-width="0.08">mut</text>
<text x="110.22" y="632.2" font-size="5.3" fill="#5c5c5c" textLength="11.07" lengthAdjust="spacingAndGlyphs" stroke="#5c5c5c" stroke-width="0.08">FLT3</text>
<text x="122.3" y="629.97" font-size="4" fill="#5c5c5c" textLength="6.54" lengthAdjust="spacingAndGlyphs" stroke="#5c5c5c" stroke-width="0.08">ITD</text>
<text x="130.36" y="632.2" font-size="5.3" fill="#5c5c5c" textLength="5.03" lengthAdjust="spacingAndGlyphs" stroke="#5c5c5c" stroke-width="0.08">-L</text>
<text x="136.9" y="632.2" font-size="5.3" fill="#5c5c5c" textLength="2.52" lengthAdjust="spacingAndGlyphs" stroke="#5c5c5c" stroke-width="0.08">n</text>
<text x="141.93" y="632.2" font-size="5.3" fill="#5c5c5c" textLength="3.02" lengthAdjust="spacingAndGlyphs" stroke="#5c5c5c" stroke-width="0.08">=</text>
<text x="146.97" y="632.2" font-size="5.3" fill="#5c5c5c" textLength="5.03" lengthAdjust="spacingAndGlyphs" stroke="#5c5c5c" stroke-width="0.08">13</text>
<line x1="204.6" y1="613.9" x2="220.8" y2="613.9" stroke="#6a9a50" stroke-width="1.7" stroke-dasharray="1.4,1.7" stroke-linecap="butt"/>
<line x1="204.6" y1="622.6" x2="220.8" y2="622.6" stroke="#cc9e38" stroke-width="1.7" stroke-dasharray="3.6,1.8" stroke-linecap="butt"/>
<line x1="204.6" y1="630.3" x2="220.8" y2="630.3" stroke="#27375a" stroke-width="1.8" stroke-linecap="butt"/>
<line x1="204.6" y1="637.2" x2="220.8" y2="637.2" stroke="#2c1d48" stroke-width="1.8" stroke-dasharray="5.8,2,1.5,1.8" stroke-linecap="butt"/>
<line x1="204.6" y1="644" x2="220.8" y2="644" stroke="#721532" stroke-width="2.0" stroke-dasharray="6.3,2" stroke-linecap="butt"/>
<text x="223.1" y="615.8" font-size="5.3" fill="#5c5c5c" textLength="34.6" lengthAdjust="spacingAndGlyphs" stroke="#5c5c5c" stroke-width="0.08">Favorable n= 1</text>
<text x="223.1" y="639.1" font-size="5.3" fill="#5c5c5c" textLength="46.2" lengthAdjust="spacingAndGlyphs" stroke="#5c5c5c" stroke-width="0.08">Intermediate n= 20</text>
<text x="223.1" y="645.9" font-size="5.3" fill="#5c5c5c" textLength="35.1" lengthAdjust="spacingAndGlyphs" stroke="#5c5c5c" stroke-width="0.08">Adverse n= 36</text>
<text x="223.1" y="624.5" font-size="5.3" fill="#5c5c5c" textLength="23.16" lengthAdjust="spacingAndGlyphs" stroke="#5c5c5c" stroke-width="0.08">Favorable</text>
<text x="247.77" y="624.5" font-size="5.3" fill="#5c5c5c" textLength="14.6" lengthAdjust="spacingAndGlyphs" stroke="#5c5c5c" stroke-width="0.08">NPM1</text>
<text x="262.88" y="622.27" font-size="4" fill="#5c5c5c" textLength="6.55" lengthAdjust="spacingAndGlyphs" stroke="#5c5c5c" stroke-width="0.08">mut</text>
<text x="271.43" y="624.5" font-size="5.3" fill="#5c5c5c" textLength="10.57" lengthAdjust="spacingAndGlyphs" stroke="#5c5c5c" stroke-width="0.08">FLT3</text>
<text x="283.01" y="622.27" font-size="4" fill="#5c5c5c" textLength="4.53" lengthAdjust="spacingAndGlyphs" stroke="#5c5c5c" stroke-width="0.08">wt</text>
<text x="289.56" y="624.5" font-size="5.3" fill="#5c5c5c" textLength="2.52" lengthAdjust="spacingAndGlyphs" stroke="#5c5c5c" stroke-width="0.08">n</text>
<text x="294.59" y="624.5" font-size="5.3" fill="#5c5c5c" textLength="3.02" lengthAdjust="spacingAndGlyphs" stroke="#5c5c5c" stroke-width="0.08">=</text>
<text x="299.63" y="624.5" font-size="5.3" fill="#5c5c5c" textLength="5.37" lengthAdjust="spacingAndGlyphs" stroke="#5c5c5c" stroke-width="0.08">12</text>
<text x="223.1" y="632.2" font-size="5.3" fill="#5c5c5c" textLength="22.29" lengthAdjust="spacingAndGlyphs" stroke="#5c5c5c" stroke-width="0.08">Favorable</text>
<text x="246.84" y="632.2" font-size="5.3" fill="#5c5c5c" textLength="14.05" lengthAdjust="spacingAndGlyphs" stroke="#5c5c5c" stroke-width="0.08">NPM1</text>
<text x="261.37" y="629.97" font-size="4" fill="#5c5c5c" textLength="6.3" lengthAdjust="spacingAndGlyphs" stroke="#5c5c5c" stroke-width="0.08">mut</text>
<text x="269.61" y="632.2" font-size="5.3" fill="#5c5c5c" textLength="10.66" lengthAdjust="spacingAndGlyphs" stroke="#5c5c5c" stroke-width="0.08">FLT3</text>
<text x="281.24" y="629.97" font-size="4" fill="#5c5c5c" textLength="6.3" lengthAdjust="spacingAndGlyphs" stroke="#5c5c5c" stroke-width="0.08">ITD</text>
<text x="288.99" y="632.2" font-size="5.3" fill="#5c5c5c" textLength="4.84" lengthAdjust="spacingAndGlyphs" stroke="#5c5c5c" stroke-width="0.08">-L</text>
<text x="295.29" y="632.2" font-size="5.3" fill="#5c5c5c" textLength="2.42" lengthAdjust="spacingAndGlyphs" stroke="#5c5c5c" stroke-width="0.08">n</text>
<text x="300.13" y="632.2" font-size="5.3" fill="#5c5c5c" textLength="2.91" lengthAdjust="spacingAndGlyphs" stroke="#5c5c5c" stroke-width="0.08">=</text>
<text x="304.98" y="632.2" font-size="5.3" fill="#5c5c5c" textLength="2.42" lengthAdjust="spacingAndGlyphs" stroke="#5c5c5c" stroke-width="0.08">7</text>
<line x1="359.6" y1="613.9" x2="375.8" y2="613.9" stroke="#6a9a50" stroke-width="1.7" stroke-dasharray="1.4,1.7" stroke-linecap="butt"/>
<line x1="359.6" y1="622.6" x2="375.8" y2="622.6" stroke="#cc9e38" stroke-width="1.7" stroke-dasharray="3.6,1.8" stroke-linecap="butt"/>
<line x1="359.6" y1="630.3" x2="375.8" y2="630.3" stroke="#27375a" stroke-width="1.8" stroke-linecap="butt"/>
<line x1="359.6" y1="637.2" x2="375.8" y2="637.2" stroke="#2c1d48" stroke-width="1.8" stroke-dasharray="5.8,2,1.5,1.8" stroke-linecap="butt"/>
<line x1="359.6" y1="644" x2="375.8" y2="644" stroke="#721532" stroke-width="2.0" stroke-dasharray="6.3,2" stroke-linecap="butt"/>
<text x="378.1" y="615.8" font-size="5.3" fill="#5c5c5c" textLength="42.7" lengthAdjust="spacingAndGlyphs" stroke="#5c5c5c" stroke-width="0.08">Favorable n= 302</text>
<text x="378.1" y="639.1" font-size="5.3" fill="#5c5c5c" textLength="48.5" lengthAdjust="spacingAndGlyphs" stroke="#5c5c5c" stroke-width="0.08">Intermediate n= 438</text>
<text x="378.1" y="645.9" font-size="5.3" fill="#5c5c5c" textLength="38.1" lengthAdjust="spacingAndGlyphs" stroke="#5c5c5c" stroke-width="0.08">Adverse n= 142</text>
<text x="378.1" y="624.5" font-size="5.3" fill="#5c5c5c" textLength="22.88" lengthAdjust="spacingAndGlyphs" stroke="#5c5c5c" stroke-width="0.08">Favorable</text>
<text x="402.47" y="624.5" font-size="5.3" fill="#5c5c5c" textLength="14.42" lengthAdjust="spacingAndGlyphs" stroke="#5c5c5c" stroke-width="0.08">NPM1</text>
<text x="417.39" y="622.27" font-size="4" fill="#5c5c5c" textLength="6.47" lengthAdjust="spacingAndGlyphs" stroke="#5c5c5c" stroke-width="0.08">mut</text>
<text x="425.84" y="624.5" font-size="5.3" fill="#5c5c5c" textLength="10.44" lengthAdjust="spacingAndGlyphs" stroke="#5c5c5c" stroke-width="0.08">FLT3</text>
<text x="437.28" y="622.27" font-size="4" fill="#5c5c5c" textLength="4.48" lengthAdjust="spacingAndGlyphs" stroke="#5c5c5c" stroke-width="0.08">wt</text>
<text x="443.75" y="624.5" font-size="5.3" fill="#5c5c5c" textLength="2.49" lengthAdjust="spacingAndGlyphs" stroke="#5c5c5c" stroke-width="0.08">n</text>
<text x="448.72" y="624.5" font-size="5.3" fill="#5c5c5c" textLength="2.98" lengthAdjust="spacingAndGlyphs" stroke="#5c5c5c" stroke-width="0.08">=</text>
<text x="453.7" y="624.5" font-size="5.3" fill="#5c5c5c" textLength="5.3" lengthAdjust="spacingAndGlyphs" stroke="#5c5c5c" stroke-width="0.08">44</text>
<text x="378.1" y="632.2" font-size="5.3" fill="#5c5c5c" textLength="22.54" lengthAdjust="spacingAndGlyphs" stroke="#5c5c5c" stroke-width="0.08">Favorable</text>
<text x="402.11" y="632.2" font-size="5.3" fill="#5c5c5c" textLength="14.21" lengthAdjust="spacingAndGlyphs" stroke="#5c5c5c" stroke-width="0.08">NPM1</text>
<text x="416.81" y="629.97" font-size="4" fill="#5c5c5c" textLength="6.37" lengthAdjust="spacingAndGlyphs" stroke="#5c5c5c" stroke-width="0.08">mut</text>
<text x="425.13" y="632.2" font-size="5.3" fill="#5c5c5c" textLength="10.78" lengthAdjust="spacingAndGlyphs" stroke="#5c5c5c" stroke-width="0.08">FLT3</text>
<text x="436.89" y="629.97" font-size="4" fill="#5c5c5c" textLength="6.37" lengthAdjust="spacingAndGlyphs" stroke="#5c5c5c" stroke-width="0.08">ITD</text>
<text x="444.73" y="632.2" font-size="5.3" fill="#5c5c5c" textLength="4.9" lengthAdjust="spacingAndGlyphs" stroke="#5c5c5c" stroke-width="0.08">-L</text>
<text x="451.1" y="632.2" font-size="5.3" fill="#5c5c5c" textLength="2.45" lengthAdjust="spacingAndGlyphs" stroke="#5c5c5c" stroke-width="0.08">n</text>
<text x="456" y="632.2" font-size="5.3" fill="#5c5c5c" textLength="2.94" lengthAdjust="spacingAndGlyphs" stroke="#5c5c5c" stroke-width="0.08">=</text>
<text x="460.9" y="632.2" font-size="5.3" fill="#5c5c5c" textLength="4.9" lengthAdjust="spacingAndGlyphs" stroke="#5c5c5c" stroke-width="0.08">17</text>
<text x="7.2" y="16.6" font-size="10.5" font-weight="bold" fill="#111" stroke="#111" stroke-width="0.35">A</text>
<text x="6.8" y="154" font-size="10.5" font-weight="bold" fill="#111" stroke="#111" stroke-width="0.35">B</text>
<text x="266.8" y="153.9" font-size="10.5" font-weight="bold" fill="#111" stroke="#111" stroke-width="0.35">C</text>
<text x="7" y="287.8" font-size="10.5" font-weight="bold" fill="#111" stroke="#111" stroke-width="0.35">D</text>
<text x="7.6" y="472.4" font-size="10.5" font-weight="bold" fill="#111" stroke="#111" stroke-width="0.35">E</text>
<text x="338" y="472.7" font-size="10.5" font-weight="bold" fill="#111" stroke="#111" stroke-width="0.35">F</text>
<text x="156.5" y="294" font-size="8.2" font-weight="bold" fill="#111" textLength="29.4" lengthAdjust="spacingAndGlyphs" stroke="#111" stroke-width="0.35">AMLSG</text>
<text x="159.6" y="477.9" font-size="8.2" font-weight="bold" fill="#111" textLength="23.5" lengthAdjust="spacingAndGlyphs" stroke="#111" stroke-width="0.35">TCGA</text>
<text x="407.7" y="478.1" font-size="8.2" font-weight="bold" fill="#111" textLength="31.7" lengthAdjust="spacingAndGlyphs" stroke="#111" stroke-width="0.35">TARGET</text>
<polyline points="48.4,28.6 50,33.5 51.6,37.7 54,39.5 57,42 59,45 61,48.3 63.3,51.4 66,53 68,55 71.7,56.7 75,58 78,60 82.3,61 86,62.5 90.8,64 95,64.8 103.5,65.2 106,66.8 109,67.8 112,69 118,69.6 124.6,70.5 128,71.2 137.3,72" fill="none" stroke="#8c1b36" stroke-width="1.8" stroke-dasharray="3.5,2" stroke-linejoin="miter"/>
<polyline points="48.4,28.6 50.3,35.5 52.2,42.5 54.2,49.5 56,56 57.6,62 58.6,65.5 59.8,68.2 61.2,70.3 63.5,72.6 65.5,74 67.5,75.2 70,76 73.8,76.6 78,77.5 82.3,78.2 90,78.9 97,79.5 99.2,80.5 140.5,80.5" fill="none" stroke="#1f2f50" stroke-width="1.7" stroke-linejoin="miter"/>
<polyline points="183.4,28.3 183.4,28.3 183.4,34 184.3,34 184.3,38 184.3,38 184.3,45 186,45 186,45 186,45 186,47 188,47 188,47 188,47 188,51 189.5,51 189.5,51 189.5,51 189.5,58 191,58 191,58 191,58 191,62 193.4,62 193.4,62 193.4,62 193.4,66 195.5,66 195.5,66 195.5,66 195.5,70 198,70 198,70 198,70 198,74 200,74 200,74 200,74 200,77 202.6,77 202.6,77 202.6,77 202.6,81.5 226.5,81.5 226.5,81.5 226.5,81.5 226.5,91 246.5,91 246.5,91" fill="none" stroke="#8c1b36" stroke-width="1.8" stroke-dasharray="3.5,2" stroke-linejoin="miter"/>
<polyline points="183.6,28.3 183.6,28.3 183.6,41 188,41 188,41 188,41 188,50.9 189,50.9 189,50.9 189,50.9 189,62.5 191.8,62.5 191.8,62.5 191.8,62.5 191.8,71.7 196.5,71.7 196.5,71.7 196.5,71.7 196.5,74.8 199,74.8 199,74.8 199,74.8 199,77 202.6,77 202.6,77 202.6,77 202.6,81.7 206.5,81.7 206.5,81.7 206.5,81.7 206.5,87.4 224,87.4 224,87.4" fill="none" stroke="#1f2f50" stroke-width="1.7" stroke-linejoin="miter"/>
<polyline points="319,28.3 322.7,28.3 322.7,28.3 322.7,28.3 322.7,34.6 324.7,34.6 324.7,34.6 324.7,34.6 324.7,38.4 332,38.4 332,38.4 332,38.4 332,40.4 340,40.4 340,40.4 340,40.4 340,42.7 357.3,42.7 357.3,42.7 357.3,42.7 357.3,44.5 363,44.5 363,44.5 363,44.5 363,45.6 404,45.6 404,45.6" fill="none" stroke="#8c1b36" stroke-width="1.8" stroke-dasharray="3.5,2" stroke-linejoin="miter"/>
<polyline points="319,28.3 326,28.3 326,28.3 326,28.3 326,33.2 332,33.2 332,33.2 332,33.2 332,38.4 357.3,38.4 357.3,38.4 357.3,38.4 357.3,45.6 394,45.6 394,45.6" fill="none" stroke="#1f2f50" stroke-width="1.7" stroke-linejoin="miter"/>
<polyline points="47.5,166.2 49,171 50.7,175.6 53.8,176.4 55.5,179.5 57.3,182.5 61.6,186 64,188.5 67.7,191.2 71,192.5 74.6,193.7 78,195.5 81.5,197.2 88.5,198.4 95.4,199.8 97.5,201.5 99.7,203.3 119.6,203.3" fill="none" stroke="#8c1b36" stroke-width="1.8" stroke-dasharray="3.5,2" stroke-linejoin="miter"/>
<polyline points="47.5,166.2 49.1,172.4 50.7,178.6 52.3,184.8 53.9,191 55.6,197.2 57.5,202.5 59,205.9 61.6,207.6 63.4,210.2 66,211 69.4,211.6 78,212.8 83.3,213.3 88,214.5 90.2,215 118.7,215" fill="none" stroke="#1f2f50" stroke-width="1.7" stroke-linejoin="miter"/>
<polyline points="176.9,166 177.6,166 177.6,166 177.6,166 177.6,172 178.7,172 178.7,172 178.7,172 178.7,179 179.5,179 179.5,179 179.5,179 179.5,183.5 180.4,183.5 180.4,183.5 180.4,183.5 180.4,186.8 183.8,186.8 183.8,186.8 183.8,186.8 183.8,188.5 184.7,188.5 184.7,188.5 184.7,188.5 184.7,190.3 187.3,190.3 187.3,190.3 187.3,190.3 187.3,192 188.2,192 188.2,192 188.2,192 188.2,197.2 189,197.2 189,197.2 189,197.2 189,203.3 190.5,203.3 190.5,203.3 190.5,203.3 190.5,206.7 192.5,206.7 192.5,206.7 192.5,206.7 192.5,209.3 195.1,209.3 195.1,209.3 195.1,209.3 195.1,211.6 208,211.6 208,211.6 208,211.6 208,215 210.5,215 210.5,215 210.5,215 210.5,217.1 213.3,217.1 213.3,217.1 213.3,217.1 213.3,219.4 240,219.4 240,219.4 240,219.4 240,229.2 246.2,229.2 246.2,229.2" fill="none" stroke="#8c1b36" stroke-width="1.8" stroke-dasharray="3.5,2" stroke-linejoin="miter"/>
<polyline points="176.9,166 177.5,166 177.5,166 177.5,166 177.5,172 177.8,172 177.8,172 177.8,172 177.8,177.3 178.6,177.3 178.6,177.3 178.6,177.3 178.6,181 179.5,181 179.5,181 179.5,181 179.5,184.2 180.4,184.2 180.4,184.2 180.4,184.2 180.4,191.2 182.1,191.2 182.1,191.2 182.1,191.2 182.1,194.6 183,194.6 183,194.6 183,194.6 183,199 183.8,199 183.8,199 183.8,199 183.8,203.3 184.8,203.3 184.8,203.3 184.8,203.3 184.8,207 185.6,207 185.6,207 185.6,207 185.6,210.2 187.3,210.2 187.3,210.2 187.3,210.2 187.3,212 189,212 189,212 189,212 189,215.4 192.5,215.4 192.5,215.4 192.5,215.4 192.5,217.1 194.2,217.1 194.2,217.1 194.2,217.1 194.2,219.7 203.7,219.7 203.7,219.7 203.7,219.7 203.7,222.3 254.8,222.3 254.8,222.3" fill="none" stroke="#1f2f50" stroke-width="1.7" stroke-linejoin="miter"/>
<polyline points="305,165.8 305.8,165.8 305.8,165.8 305.8,165.8 305.8,171.5 309.6,171.5 309.6,171.5 309.6,171.5 309.6,177.7 314.6,177.7 314.6,177.7 314.6,177.7 314.6,183 315.3,183 315.3,183 315.3,183 315.3,189.2 321,189.2 321,189.2 321,189.2 321,195.7 339.6,195.7 339.6,195.7 339.6,195.7 339.6,210.8 358,210.8 358,210.8" fill="none" stroke="#8c1b36" stroke-width="1.8" stroke-dasharray="3.5,2" stroke-linejoin="miter"/>
<polyline points="305,165.8 306,165.8 306,165.8 306,165.8 306,175.4 308.5,175.4 308.5,175.4 308.5,175.4 308.5,178 309.6,178 309.6,178 309.6,178 309.6,204.6 311.9,204.6 311.9,204.6 311.9,204.6 311.9,210.5 315,210.5 315,210.5 315,210.5 315,217.2 320.4,217.2 320.4,217.2 320.4,217.2 320.4,225.4 323.5,225.4 323.5,225.4 323.5,225.4 323.5,236.9 332.7,236.9 332.7,236.9" fill="none" stroke="#1f2f50" stroke-width="1.7" stroke-linejoin="miter"/>
<polyline points="429.8,166.1 430.2,166.1 430.2,166.1 430.2,166.1 430.2,192.4 433.8,192.4 433.8,192.4 433.8,192.4 433.8,202.9 434.8,202.9 434.8,202.9 434.8,202.9 434.8,208 435.6,208 435.6,208 435.6,208 435.6,213.6 437.5,213.6 437.5,213.6 437.5,213.6 437.5,217.5 438.6,217.5 438.6,217.5 438.6,217.5 438.6,221.2 442,221.2 442,221.2 442,221.2 442,228.9 443.6,228.9 443.6,228.9 443.6,228.9 443.6,234.5 445.3,234.5 445.3,234.5 445.3,234.5 445.3,241.9 456.7,241.9 456.7,241.9" fill="none" stroke="#8c1b36" stroke-width="1.8" stroke-dasharray="3.5,2" stroke-linejoin="miter"/>
<polyline points="429.5,166.1 429.8,166.1 429.8,166.1 429.8,166.1 429.8,189.4 436.8,189.4 436.8,189.4 436.8,189.4 436.8,201.6 463.6,201.6 463.6,201.6" fill="none" stroke="#1f2f50" stroke-width="1.7" stroke-linejoin="miter"/>
<polyline points="49.5,315 52,318.5 55,320 60,323.5 65,327.5 70,329.5 77.5,332 84,333.5 90,335 97,336.2 105,337.5 110,338.8 115,340 125,340.7 132.5,341.2 135,342.5 137.5,343.7 160,343.7" fill="none" stroke="#6a9a50" stroke-width="1.7" stroke-dasharray="1.4,1.7" stroke-linejoin="miter"/>
<polyline points="49.5,315 51.5,318.5 53.7,321.2 56.5,324.5 60,327.5 63.5,331 67.5,333.7 72,336.5 77.5,338.7 84,340.5 90,342 95,343 100,343.7 105,344.7 110,345.5 116,346.5 122.5,347.5 125,348.7 128.1,351 158.7,351" fill="none" stroke="#cc9e38" stroke-width="1.7" stroke-dasharray="3.6,1.8" stroke-linejoin="miter"/>
<polyline points="49.5,315 51,317 53,321.5 55,327 57,333 59,338.5 61.5,343.8 64,348.5 67.3,353.6 73,354.8 75.4,357.7 83.4,358.3 84.6,360 96,360.6 110,361.7 127.5,362 140,362.3 162.5,362.6" fill="none" stroke="#27375a" stroke-width="1.8" stroke-linejoin="miter"/>
<polyline points="49.5,315 52,318.5 55,323 58,330 60.5,335.5 62.7,340.4 65.5,344.8 68.5,348.5 71,351 74.2,353 77.5,354.7 81.1,356 88,357.7 97,359 110,360.6 120,361.5 127.5,362.5 130,363.1 162.5,363.5" fill="none" stroke="#2c1d48" stroke-width="1.8" stroke-dasharray="5.8,2,1.5,1.8" stroke-linejoin="miter"/>
<polyline points="49.5,315 51,318.5 52.5,322.5 55,330 57.5,337.5 60,344 62.5,350 66,356.5 70,362.5 74,367 78.7,371.2 85,372.2 92.5,373 96,374 100,375 107,376 115,377 122,377.6 130,378.2 162.5,378.2" fill="none" stroke="#721532" stroke-width="2.0" stroke-dasharray="6.3,2" stroke-linejoin="miter"/>
<polyline points="211.3,315.6 215,315.6 215,315.6 215,315.6 215,334.6 228.5,334.6 228.5,334.6 228.5,334.6 228.5,354.8 247.5,354.8 247.5,354.8" fill="none" stroke="#6a9a50" stroke-width="1.7" stroke-dasharray="1.4,1.7" stroke-linejoin="miter"/>
<polyline points="211.3,315.6 213.5,322 216,330 218.4,334.3 223.6,334.3 225,340 227,346 228.8,351.5 230.5,353.5 232.9,355.6 238.1,357.7 241.2,359.2 253.7,359.2 256.3,359.5 258,361.8 261.5,363 264.6,365.6 307.2,365.6 307.2,374.8 315.8,374.8" fill="none" stroke="#cc9e38" stroke-width="1.7" stroke-dasharray="3.6,1.8" stroke-linejoin="miter"/>
<polyline points="211.3,315.6 212.5,322 214.2,334.8 216.5,340.5 219.4,346.3 221,351 222.5,355.6 225.2,357.7 227.5,361 230.4,363 233,364 237.3,365.6 252,365.6 252.7,368.6 328.7,368.6" fill="none" stroke="#27375a" stroke-width="1.8" stroke-linejoin="miter"/>
<polyline points="211.3,315.6 213,319 214.2,325.5 217.9,328.6 219.4,338 222.5,346.3 224.5,351 226.2,355.6 228.8,360.3 232.1,364.5 235,366.5 237.3,367.3 240.8,370.8 244.2,374.2 250.3,376.3 265.8,377.7 304.8,378.3" fill="none" stroke="#2c1d48" stroke-width="1.8" stroke-dasharray="5.8,2,1.5,1.8" stroke-linejoin="miter"/>
<polyline points="211.3,315.6 213,326 215,337 217,347 219,354 220,357 222.5,363.5 225.2,369 227.5,373.5 230.4,377.7 233.5,381 237.3,383.7 240.5,385.2 244.2,386.3 247.5,387.5 251.1,388.4 260,389 296.1,389.4" fill="none" stroke="#721532" stroke-width="2.0" stroke-dasharray="6.3,2" stroke-linejoin="miter"/>
<polyline points="49.5,500 53.7,500 53.7,500 53.7,500 53.7,506.2 78.7,506.2 78.7,506.2 78.7,506.2 78.7,515 95,515 95,515 95,515 95,527.5 147.5,527.5 147.5,527.5" fill="none" stroke="#6a9a50" stroke-width="1.7" stroke-dasharray="1.4,1.7" stroke-linejoin="miter"/>
<polyline points="49.5,505 53.5,505 53.5,505 53.5,505 53.5,510 56,510 56,510 56,510 56,515 58.7,515 58.7,515 58.7,515 58.7,520 62.5,520 62.5,520 62.5,520 62.5,522.5 65,522.5 65,522.5 65,522.5 65,525 67.5,525 67.5,525 67.5,525 67.5,527.5 103.7,527.5 103.7,527.5 103.7,527.5 103.7,543 130,543 130,543" fill="none" stroke="#cc9e38" stroke-width="1.7" stroke-dasharray="3.6,1.8" stroke-linejoin="miter"/>
<polyline points="49.5,500 53.7,500 53.7,500 53.7,500 53.7,507.5 56.2,507.5 56.2,507.5 56.2,507.5 56.2,536.2 61.2,536.2 61.2,536.2 61.2,536.2 61.2,542.5 66.2,542.5 66.2,542.5 66.2,542.5 66.2,548.7 73.7,548.7 73.7,548.7 73.7,548.7 73.7,556.2 78.7,556.2 78.7,556.2 78.7,556.2 78.7,568 92.5,568 92.5,568" fill="none" stroke="#27375a" stroke-width="1.8" stroke-linejoin="miter"/>
<polyline points="49.5,500 54,500 54,500 54,500 54,504 55,504 55,504 55,504 55,508 56.2,508 56.2,508 56.2,508 56.2,512 58.7,512 58.7,512 58.7,512 58.7,516.2 64,516.2 64,516.2 64,516.2 64,519 66.2,519 66.2,519 66.2,519 66.2,522.5 72.5,522.5 72.5,522.5 72.5,522.5 72.5,525 75,525 75,525 75,525 75,527.5 76.5,527.5 76.5,527.5 76.5,527.5 76.5,531 77.5,531 77.5,531 77.5,531 77.5,537.5 103.7,537.5 103.7,537.5 103.7,537.5 103.7,548.7 165,548.7 165,548.7" fill="none" stroke="#2c1d48" stroke-width="1.8" stroke-dasharray="5.8,2,1.5,1.8" stroke-linejoin="miter"/>
<polyline points="49.5,500 55.5,500 55.5,500 55.5,500 55.5,504 56.5,504 56.5,504 56.5,504 56.5,510 57.5,510 57.5,510 57.5,510 57.5,513.5 58.5,513.5 58.5,513.5 58.5,513.5 58.5,518 60,518 60,518 60,518 60,523.7 61,523.7 61,523.7 61,523.7 61,530 62.5,530 62.5,530 62.5,530 62.5,536.2 68.7,536.2 68.7,536.2 68.7,536.2 68.7,540 70,540 70,540 70,540 70,543.7 72,543.7 72,543.7 72,543.7 72,547 76.2,547 76.2,547 76.2,547 76.2,550 101.2,550 101.2,550 101.2,550 101.2,555.5 147.5,555.5 147.5,555.5" fill="none" stroke="#721532" stroke-width="2.0" stroke-dasharray="6.3,2" stroke-linejoin="miter"/>
<polyline points="211,499.4 230.3,499.4 230.3,499.4 230.3,499.4 230.3,578.5" fill="none" stroke="#6a9a50" stroke-width="1.7" stroke-dasharray="1.4,1.7" stroke-linejoin="miter"/>
<polyline points="211,499.6 211.5,505 212,512 213,520 214,526 215.5,531 217.3,536 219,540 221,544 223,548.5 225,552.5 227,556.5 229,561 230.5,565.5 232,568.5 234,570.7 237,572 240,572.8 252,573" fill="none" stroke="#cc9e38" stroke-width="1.7" stroke-dasharray="3.6,1.8" stroke-linejoin="miter"/>
<polyline points="211,499.5 211.3,499.5 211.3,499.5 211.3,499.5 211.3,522.7 222.1,522.7 222.1,522.7 222.1,522.7 222.1,533.8 262.5,533.8 262.5,533.8" fill="none" stroke="#27375a" stroke-width="1.8" stroke-linejoin="miter"/>
<polyline points="211,499.5 212,499.5 212,499.5 212,499.5 212,503.5 214.4,503.5 214.4,503.5 214.4,503.5 214.4,510 215.4,510 215.4,510 215.4,510 215.4,519 216.5,519 216.5,519 216.5,519 216.5,524 218,524 218,524 218,524 218,528 219.2,528 219.2,528 219.2,528 219.2,534.2 225,534.2 225,534.2 225,534.2 225,537.1 226,537.1 226,537.1 226,537.1 226,547.7 230.8,547.7 230.8,547.7 230.8,547.7 230.8,549 235.6,549 235.6,549 235.6,549 235.6,550.6 241.3,550.6 241.3,550.6 241.3,550.6 241.3,553.5 242.3,553.5 242.3,553.5 242.3,553.5 242.3,558.3 255.8,558.3 255.8,558.3 255.8,558.3 255.8,564.6 283.6,564.6 283.6,564.6" fill="none" stroke="#2c1d48" stroke-width="1.8" stroke-dasharray="5.8,2,1.5,1.8" stroke-linejoin="miter"/>
<polyline points="211,499.6 211.5,510 212.5,522 213.5,530.4 215.4,538 218.3,545.8 221.2,551.5 224,556.3 227,563 229.8,567.9 233.7,571.7 238.5,573.6 252,573.6" fill="none" stroke="#721532" stroke-width="2.0" stroke-dasharray="6.3,2" stroke-linejoin="miter"/>
<polyline points="366.2,498.7 368,500 370,501.5 372.5,503.5 375,505.5 378,507.5 382,509.8 390,510.6 400,511.2 410,511.8 414,512.3 417,514.3 420,515.1 482,515.1" fill="none" stroke="#6a9a50" stroke-width="1.7" stroke-dasharray="1.4,1.7" stroke-linejoin="miter"/>
<polyline points="366.2,498.7 369,498.7 369,498.7 369,498.7 369,502 372.5,502 372.5,502 372.5,502 372.5,504.5 376,504.5 376,504.5 376,504.5 376,506.5 380,506.5 380,506.5 380,506.5 380,509.8 392,509.8 392,509.8 392,509.8 392,510.8 404,510.8 404,510.8 404,510.8 404,511.6 413,511.6 413,511.6 413,511.6 413,513 417,513 417,513 417,513 417,515.1 460,515.1 460,515.1" fill="none" stroke="#cc9e38" stroke-width="1.7" stroke-dasharray="3.6,1.8" stroke-linejoin="miter"/>
<polyline points="366.2,498.7 375.2,498.7 375.2,498.7 375.2,498.7 375.2,504 382.9,504 382.9,504 382.9,504 382.9,508.8 414.8,508.8 414.8,508.8 414.8,508.8 414.8,515 460,515 460,515" fill="none" stroke="#27375a" stroke-width="1.8" stroke-linejoin="miter"/>
<polyline points="366.2,498.7 368,499.5 370.4,501.2 372.3,503.5 374.2,507 375.6,510.5 377.1,514.6 379.5,518.2 382,521.3 385.5,524.5 389.6,527.1 393.5,529 397.3,530.4 401,531 405,531.5 409,532.5 412.7,533.5 418,534.2 422.3,534.8 429.2,535.8 457,535.8 457,537 481.2,537" fill="none" stroke="#2c1d48" stroke-width="1.8" stroke-dasharray="5.8,2,1.5,1.8" stroke-linejoin="miter"/>
<polyline points="366.2,498.7 368,500 370.4,502 372.8,505 375.2,508.8 376.6,513.5 378,518.5 380,522.5 382,526.2 384.8,529.3 387.7,532 391.5,534.5 395.4,536.7 399,538.8 403,540.6 407,541.6 410.8,542.5 414.5,543 418.5,543.5 421.5,545.4 453.8,545.4 453.8,554 459,554" fill="none" stroke="#721532" stroke-width="2.0" stroke-dasharray="6.3,2" stroke-linejoin="miter"/>
<path d="M0.65,0.65 H518.9 V652.9 H0.65 Z" fill="none" stroke="#000" stroke-width="1.3"/>
<rect x="518" y="0" width="2" height="654" fill="#000"/>
<rect x="0" y="652" width="520" height="2" fill="#000"/>
</svg>
</body></html>
